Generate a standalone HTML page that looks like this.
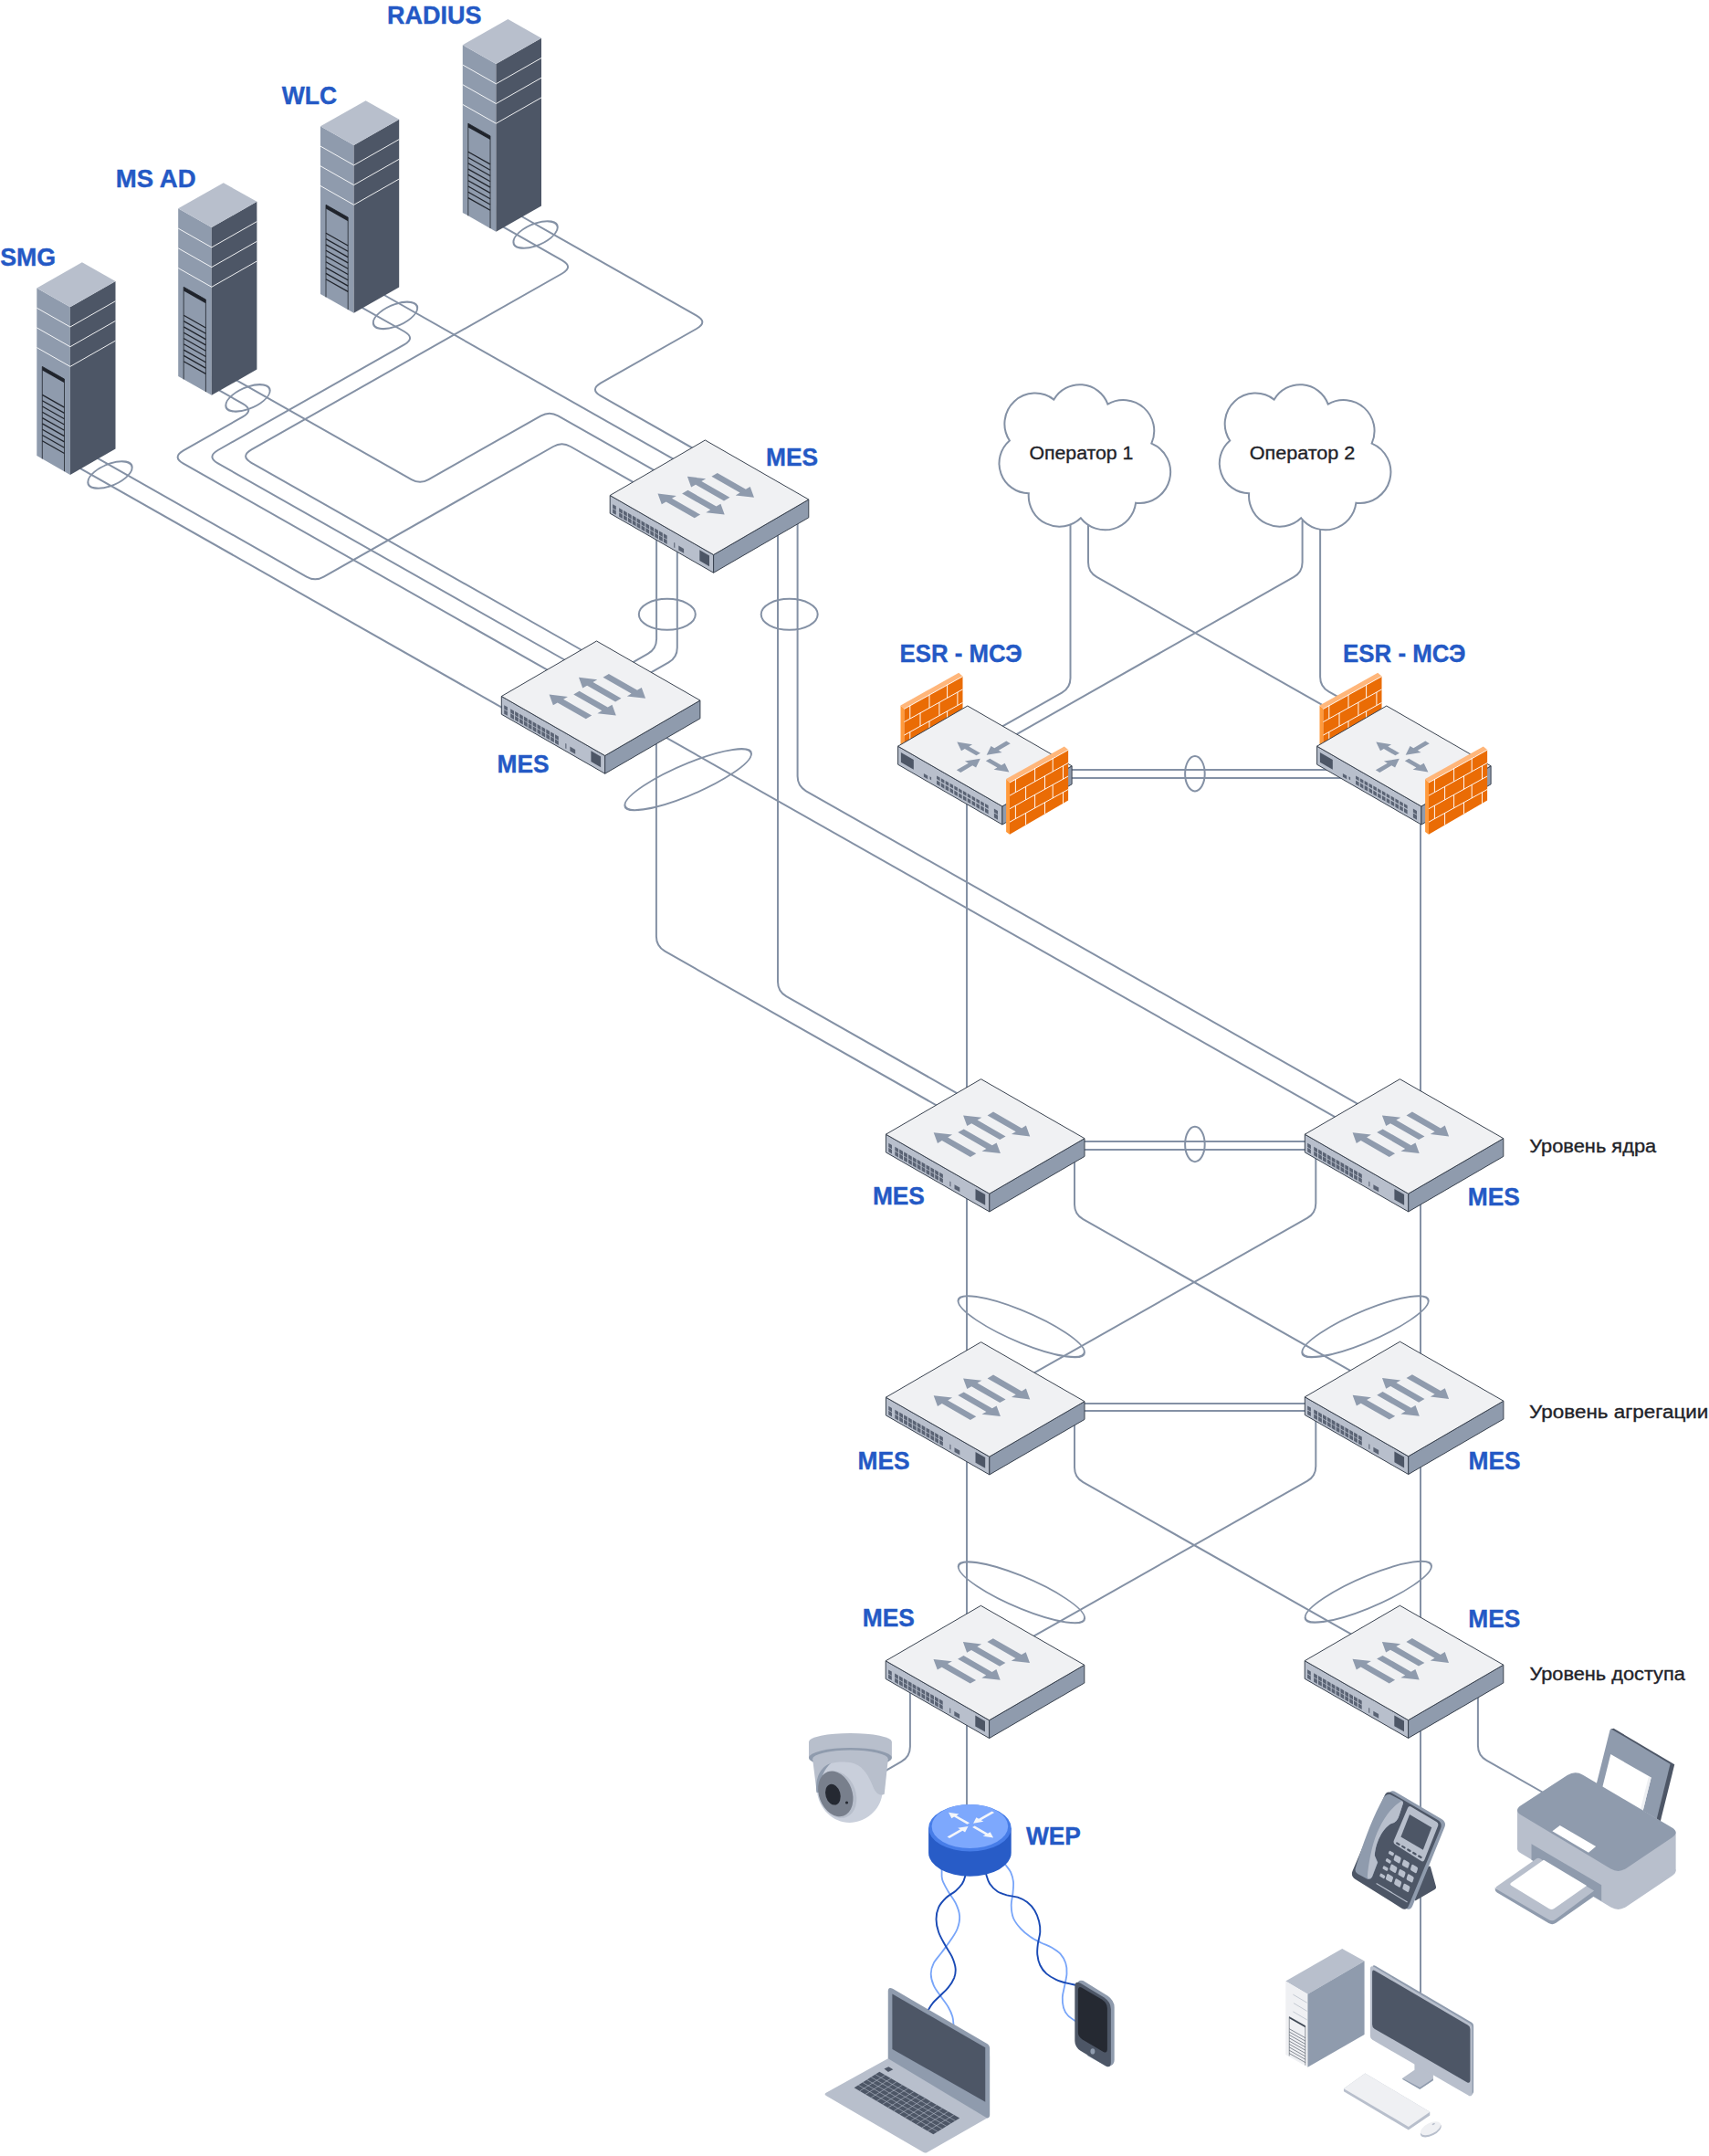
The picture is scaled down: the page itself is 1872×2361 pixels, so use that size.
<!DOCTYPE html>
<html lang="ru"><head><meta charset="utf-8"><title>Network diagram</title>
<style>
html,body{margin:0;padding:0;background:#fff}
svg{display:block}
text{font-family:"Liberation Sans",sans-serif}
</style></head><body>
<svg width="1872" height="2361" viewBox="0 0 1872 2361">
<rect width="1872" height="2361" fill="#ffffff"/>
<g id="lines">
<path d="M100,497.9 L335.8,631.6 Q345.2,637 354.6,631.6 L606.1,489 Q615.5,483.7 624.9,489 L700,531.6" fill="none" stroke="#8491a5" stroke-width="2.0"/>
<path d="M82,509.6 L560,780.6" fill="none" stroke="#8491a5" stroke-width="2.0"/>
<path d="M255,414.2 L450.7,525.1 Q460.1,530.5 469.4,525.1 L592.5,455.3 Q601.9,450 611.3,455.3 L722,518.1" fill="none" stroke="#8491a5" stroke-width="2.0"/>
<path d="M236,425.1 L266,442.1 Q278.6,449.2 266,456.4 L200.9,493.3 Q188.3,500.5 200.9,507.6 L600,733.9" fill="none" stroke="#8491a5" stroke-width="2.0"/>
<path d="M418,321.5 L745,506.9" fill="none" stroke="#8491a5" stroke-width="2.0"/>
<path d="M393,334.8 L442.8,363 Q455.4,370.2 442.8,377.4 L238.7,493 Q226.1,500.2 238.7,507.4 L620,723.5" fill="none" stroke="#8491a5" stroke-width="2.0"/>
<path d="M567,234.5 L763,345.6 Q775.7,352.8 763,360 L658.2,419.4 Q645.6,426.6 658.2,433.7 L765,494.3" fill="none" stroke="#8491a5" stroke-width="2.0"/>
<path d="M547,246.1 L615.8,285.1 Q628.4,292.3 615.8,299.5 L275.4,492.4 Q262.8,499.6 275.4,506.8 L640,713.5" fill="none" stroke="#8491a5" stroke-width="2.0"/>
<path d="M719.1,575 L719.1,699.8 Q719.1,710.6 709.7,715.9 L680,732.8" fill="none" stroke="#8491a5" stroke-width="2.0"/>
<path d="M741.8,585 L741.8,709.3 Q741.8,720.1 732.4,725.4 L700,743.8" fill="none" stroke="#8491a5" stroke-width="2.0"/>
<path d="M852,560 L852,1075.1 Q852,1085.9 861.4,1091.2 L1060,1203.8" fill="none" stroke="#8491a5" stroke-width="2.0"/>
<path d="M873.6,560 L873.6,850.1 Q873.6,860.9 883,866.3 L1500,1216.1" fill="none" stroke="#8491a5" stroke-width="2.0"/>
<path d="M718.9,810 L718.9,1025.6 Q718.9,1036.4 728.3,1041.7 L1040,1218.5" fill="none" stroke="#8491a5" stroke-width="2.0"/>
<path d="M725,805.1 L1475,1230.3" fill="none" stroke="#8491a5" stroke-width="2.0"/>
<path d="M1172.5,570 L1172.5,742.5 Q1172.5,753.3 1163.1,758.6 L1095,797.2" fill="none" stroke="#8491a5" stroke-width="2.0"/>
<path d="M1426.6,570 L1426.6,615.8 Q1426.6,626.6 1417.2,631.9 L1110,806.1" fill="none" stroke="#8491a5" stroke-width="2.0"/>
<path d="M1192,570 L1192,615.8 Q1192,626.6 1201.4,631.9 L1450,772.9" fill="none" stroke="#8491a5" stroke-width="2.0"/>
<path d="M1446.1,570 L1446.1,741.2 Q1446.1,752 1455.5,757.3 L1475,768.4" fill="none" stroke="#8491a5" stroke-width="2.0"/>
<path d="M1165,843 L1456,843" fill="none" stroke="#8491a5" stroke-width="2.0"/>
<path d="M1165,852 L1470,852" fill="none" stroke="#8491a5" stroke-width="2.0"/>
<path d="M1059,870 L1059,1990" fill="none" stroke="#8491a5" stroke-width="2.0"/>
<path d="M1556,890 L1556,2190" fill="none" stroke="#8491a5" stroke-width="2.0"/>
<path d="M1180,1250 L1435,1250" fill="none" stroke="#8491a5" stroke-width="2.0"/>
<path d="M1180,1259 L1435,1259" fill="none" stroke="#8491a5" stroke-width="2.0"/>
<path d="M1180,1537 L1435,1537" fill="none" stroke="#8491a5" stroke-width="2.0"/>
<path d="M1180,1545 L1435,1545" fill="none" stroke="#8491a5" stroke-width="2.0"/>
<path d="M1177,1255 L1177,1319 Q1177,1329.8 1186.4,1335.1 L1490,1507.2" fill="none" stroke="#8491a5" stroke-width="2.0"/>
<path d="M1441.3,1255 L1441.3,1317.8 Q1441.3,1328.6 1431.9,1333.9 L1128,1506.2" fill="none" stroke="#8491a5" stroke-width="2.0"/>
<path d="M1177,1543 L1177,1607 Q1177,1617.8 1186.4,1623.1 L1490,1795.2" fill="none" stroke="#8491a5" stroke-width="2.0"/>
<path d="M1441.3,1543 L1441.3,1605.8 Q1441.3,1616.6 1431.9,1621.9 L1128,1794.2" fill="none" stroke="#8491a5" stroke-width="2.0"/>
<path d="M996.9,1845 L996.9,1912.8 Q996.9,1923.8 987.3,1929.2 L970,1939.1" fill="none" stroke="#8491a5" stroke-width="2.0"/>
<path d="M1618.9,1850 L1618.9,1911.5 Q1618.9,1922.5 1628.5,1927.9 L1700,1968.5" fill="none" stroke="#8491a5" stroke-width="2.0"/>
</g>
<g id="ellipses">
<ellipse rx="24.2" ry="12.4" fill="none" stroke="#8491a5" stroke-width="2.0" transform="translate(120.5,520) skewY(-18.21)"/>
<ellipse rx="24.2" ry="12.4" fill="none" stroke="#8491a5" stroke-width="2.0" transform="translate(271.5,435.9) skewY(-18.21)"/>
<ellipse rx="24.2" ry="12.4" fill="none" stroke="#8491a5" stroke-width="2.0" transform="translate(433,345.4) skewY(-18.21)"/>
<ellipse rx="24.2" ry="12.4" fill="none" stroke="#8491a5" stroke-width="2.0" transform="translate(586.6,257) skewY(-18.21)"/>
<ellipse cx="730.8" cy="672.8" rx="31" ry="17" fill="none" stroke="#8491a5" stroke-width="2.0"/>
<ellipse cx="864.7" cy="672.8" rx="31" ry="17" fill="none" stroke="#8491a5" stroke-width="2.0"/>
<ellipse rx="69.3" ry="18.2" fill="none" stroke="#8491a5" stroke-width="2.0" transform="translate(753.7,853.7) skewY(-22.05)"/>
<ellipse cx="1308.9" cy="847.2" rx="10.8" ry="19.2" fill="none" stroke="#8491a5" stroke-width="2.0"/>
<ellipse cx="1308.9" cy="1253" rx="10.8" ry="19.2" fill="none" stroke="#8491a5" stroke-width="2.0"/>
<ellipse rx="69.2" ry="18.2" fill="none" stroke="#8491a5" stroke-width="2.0" transform="translate(1118.7,1452.7) skewY(22.05)"/>
<ellipse rx="69.2" ry="18.2" fill="none" stroke="#8491a5" stroke-width="2.0" transform="translate(1495.5,1452.7) skewY(-22.05)"/>
<ellipse rx="69.2" ry="18.2" fill="none" stroke="#8491a5" stroke-width="2.0" transform="translate(1118.9,1743.8) skewY(22.05)"/>
<ellipse rx="69.2" ry="18.2" fill="none" stroke="#8491a5" stroke-width="2.0" transform="translate(1498.8,1743.2) skewY(-22.05)"/>
</g>
<path d="M1031.4,2042 C1031.4,2043 1031.5,2045.1 1031.6,2047.9 C1031.7,2050.6 1031,2054.5 1032.2,2058.4 C1033.4,2062.3 1036.2,2067 1038.6,2071.3 C1041.1,2075.6 1044.7,2079.7 1046.8,2084.2 C1048.9,2088.6 1050.8,2093.5 1051.1,2098.2 C1051.4,2102.9 1050.3,2107.8 1048.6,2112.2 C1046.9,2116.7 1043.8,2120.8 1041,2125.1 C1038.1,2129.4 1034.6,2133.9 1031.6,2138 C1028.6,2142.1 1024.8,2145.8 1022.8,2149.7 C1020.8,2153.6 1019.7,2157.3 1019.7,2161.4 C1019.7,2165.5 1021,2170.2 1022.8,2174.3 C1024.6,2178.4 1027.8,2182.1 1030.4,2186 C1033.1,2189.9 1036.5,2194 1038.6,2197.7 C1040.8,2201.4 1042.3,2204.9 1043.3,2208.2 C1044.3,2211.5 1044.3,2216 1044.5,2217.6" fill="none" stroke="#78a5f9" stroke-width="1.8" stroke-linecap="round"/>
<path d="M1057.9,2047.9 C1057.8,2048.9 1058,2051.8 1057.3,2054.3 C1056.7,2056.8 1055.6,2060.4 1053.8,2063.1 C1052.1,2065.8 1049.7,2068.2 1046.8,2070.7 C1043.9,2073.2 1039.4,2075.3 1036.3,2078.3 C1033.2,2081.3 1029.9,2084.9 1028.1,2088.8 C1026.3,2092.7 1025.5,2097.2 1025.5,2101.7 C1025.5,2106.2 1026.5,2111.1 1028.1,2115.7 C1029.7,2120.4 1032.7,2125.3 1035.1,2129.8 C1037.5,2134.3 1040.8,2138.4 1042.7,2142.7 C1044.6,2147 1046.2,2151.6 1046.6,2155.5 C1047,2159.4 1046.4,2162.6 1045.1,2166.1 C1043.7,2169.6 1041.3,2173.3 1038.6,2176.6 C1036,2179.9 1032.1,2183.1 1029.3,2186 C1026.4,2188.8 1023.8,2190.9 1021.7,2193.6 C1019.5,2196.2 1017.3,2200.4 1016.4,2201.8" fill="none" stroke="#1a4ab5" stroke-width="1.9" stroke-linecap="round"/>
<path d="M1098.3,2037.3 C1098.9,2038.2 1100.4,2040.5 1101.8,2042.6 C1103.3,2044.8 1105.7,2047.2 1107.1,2050.2 C1108.4,2053.2 1109.6,2056.8 1110,2060.7 C1110.4,2064.6 1109.8,2069.3 1109.4,2073.6 C1109,2077.9 1107.6,2082 1107.7,2086.5 C1107.8,2091 1108.3,2096.2 1110,2100.5 C1111.8,2104.8 1115.1,2108.8 1118.2,2112.2 C1121.3,2115.7 1125,2118.5 1128.7,2121 C1132.4,2123.6 1136.5,2125.5 1140.4,2127.5 C1144.3,2129.4 1148.6,2130.7 1152.1,2132.7 C1155.6,2134.8 1159,2136.9 1161.5,2139.7 C1164,2142.6 1166.2,2146.1 1167.3,2149.7 C1168.5,2153.3 1168.7,2157.3 1168.5,2161.4 C1168.3,2165.5 1167,2170 1166.2,2174.3 C1165.4,2178.6 1164,2183 1163.8,2187.1 C1163.6,2191.2 1164,2195.5 1165,2198.8 C1166,2202.2 1167.3,2204.5 1169.7,2207 C1172,2209.6 1177.5,2212.9 1179.1,2214.1" fill="none" stroke="#78a5f9" stroke-width="1.8" stroke-linecap="round"/>
<path d="M1079.6,2046.7 C1079.7,2047.9 1079.7,2051 1080.5,2053.7 C1081.3,2056.5 1082.3,2060.2 1084.3,2063.1 C1086.2,2066 1089.3,2069.2 1092.5,2071.3 C1095.6,2073.3 1099.3,2074.3 1103,2075.4 C1106.7,2076.4 1111,2076.4 1114.7,2077.7 C1118.4,2079 1122.1,2080.5 1125.2,2083 C1128.3,2085.4 1131.3,2088.8 1133.4,2092.3 C1135.6,2095.9 1137.1,2100.1 1138.1,2104 C1139.1,2107.9 1139.5,2111.7 1139.3,2115.7 C1139.1,2119.8 1137.4,2124.5 1136.9,2128.6 C1136.4,2132.7 1135.9,2136.4 1136.3,2140.3 C1136.7,2144.2 1137.6,2148.5 1139.3,2152 C1140.9,2155.5 1143.4,2158.8 1146.3,2161.4 C1149.2,2164 1153.1,2166.1 1156.8,2167.8 C1160.5,2169.5 1164.8,2170.7 1168.5,2171.7 C1172.2,2172.7 1177.3,2173.6 1179.1,2174" fill="none" stroke="#1a4ab5" stroke-width="1.9" stroke-linecap="round"/>
<g>
<polygon points="40.3,315.4 76.9,336.2 76.9,519.9 40.3,499.1" fill="#8f9bad"/>
<polygon points="76.9,336.2 126.5,307.9 126.5,491.6 76.9,519.9" fill="#4d5666"/>
<polygon points="89.9,287.3 126.5,307.9 76.9,336.2 40.3,315.4" fill="#b8bfcc"/>
<polyline points="40.3,337.2 76.9,358 126.5,329.7" fill="none" stroke="#ffffff" stroke-width="0.9"/>
<polyline points="40.3,358.9 76.9,379.7 126.5,351.4" fill="none" stroke="#ffffff" stroke-width="0.9"/>
<polyline points="40.3,380.6 76.9,401.4 126.5,373.1" fill="none" stroke="#ffffff" stroke-width="0.9"/>
<polyline points="46.3,502.5 46.3,401.4 70.5,415.1 70.5,516.2" fill="none" stroke="#20242c" stroke-width="0.8"/>
<polygon points="46.3,401.4 70.5,415.1 70.5,419.3 46.3,405.6" fill="#20242c"/>
<line x1="46.3" y1="432.4" x2="70.5" y2="446.1" stroke="#20242c" stroke-width="1.25"/>
<line x1="46.3" y1="438.7" x2="70.5" y2="452.4" stroke="#20242c" stroke-width="1.25"/>
<line x1="46.3" y1="445" x2="70.5" y2="458.7" stroke="#20242c" stroke-width="1.25"/>
<line x1="46.3" y1="451.3" x2="70.5" y2="465" stroke="#20242c" stroke-width="1.25"/>
<line x1="46.3" y1="457.6" x2="70.5" y2="471.3" stroke="#20242c" stroke-width="1.25"/>
<line x1="46.3" y1="463.9" x2="70.5" y2="477.6" stroke="#20242c" stroke-width="1.25"/>
<line x1="46.3" y1="470.2" x2="70.5" y2="483.9" stroke="#20242c" stroke-width="1.25"/>
<line x1="46.3" y1="476.5" x2="70.5" y2="490.2" stroke="#20242c" stroke-width="1.25"/>
<line x1="46.3" y1="482.8" x2="70.5" y2="496.5" stroke="#20242c" stroke-width="1.25"/>
</g>
<g>
<polygon points="195.2,228.3 231.8,249.1 231.8,432.8 195.2,412" fill="#8f9bad"/>
<polygon points="231.8,249.1 281.4,220.8 281.4,404.5 231.8,432.8" fill="#4d5666"/>
<polygon points="244.8,200.2 281.4,220.8 231.8,249.1 195.2,228.3" fill="#b8bfcc"/>
<polyline points="195.2,250.1 231.8,270.9 281.4,242.6" fill="none" stroke="#ffffff" stroke-width="0.9"/>
<polyline points="195.2,271.8 231.8,292.6 281.4,264.3" fill="none" stroke="#ffffff" stroke-width="0.9"/>
<polyline points="195.2,293.5 231.8,314.3 281.4,286" fill="none" stroke="#ffffff" stroke-width="0.9"/>
<polyline points="201.2,415.4 201.2,314.3 225.4,328 225.4,429.1" fill="none" stroke="#20242c" stroke-width="0.8"/>
<polygon points="201.2,314.3 225.4,328 225.4,332.2 201.2,318.5" fill="#20242c"/>
<line x1="201.2" y1="345.3" x2="225.4" y2="359" stroke="#20242c" stroke-width="1.25"/>
<line x1="201.2" y1="351.6" x2="225.4" y2="365.3" stroke="#20242c" stroke-width="1.25"/>
<line x1="201.2" y1="357.9" x2="225.4" y2="371.6" stroke="#20242c" stroke-width="1.25"/>
<line x1="201.2" y1="364.2" x2="225.4" y2="377.9" stroke="#20242c" stroke-width="1.25"/>
<line x1="201.2" y1="370.5" x2="225.4" y2="384.2" stroke="#20242c" stroke-width="1.25"/>
<line x1="201.2" y1="376.8" x2="225.4" y2="390.5" stroke="#20242c" stroke-width="1.25"/>
<line x1="201.2" y1="383.1" x2="225.4" y2="396.8" stroke="#20242c" stroke-width="1.25"/>
<line x1="201.2" y1="389.4" x2="225.4" y2="403.1" stroke="#20242c" stroke-width="1.25"/>
<line x1="201.2" y1="395.7" x2="225.4" y2="409.4" stroke="#20242c" stroke-width="1.25"/>
</g>
<g>
<polygon points="351,138.3 387.6,159.1 387.6,342.8 351,322" fill="#8f9bad"/>
<polygon points="387.6,159.1 437.2,130.8 437.2,314.5 387.6,342.8" fill="#4d5666"/>
<polygon points="400.6,110.2 437.2,130.8 387.6,159.1 351,138.3" fill="#b8bfcc"/>
<polyline points="351,160.1 387.6,180.9 437.2,152.6" fill="none" stroke="#ffffff" stroke-width="0.9"/>
<polyline points="351,181.8 387.6,202.6 437.2,174.3" fill="none" stroke="#ffffff" stroke-width="0.9"/>
<polyline points="351,203.5 387.6,224.3 437.2,196" fill="none" stroke="#ffffff" stroke-width="0.9"/>
<polyline points="357,325.4 357,224.3 381.2,238 381.2,339.1" fill="none" stroke="#20242c" stroke-width="0.8"/>
<polygon points="357,224.3 381.2,238 381.2,242.2 357,228.5" fill="#20242c"/>
<line x1="357" y1="255.3" x2="381.2" y2="269" stroke="#20242c" stroke-width="1.25"/>
<line x1="357" y1="261.6" x2="381.2" y2="275.3" stroke="#20242c" stroke-width="1.25"/>
<line x1="357" y1="267.9" x2="381.2" y2="281.6" stroke="#20242c" stroke-width="1.25"/>
<line x1="357" y1="274.2" x2="381.2" y2="287.9" stroke="#20242c" stroke-width="1.25"/>
<line x1="357" y1="280.5" x2="381.2" y2="294.2" stroke="#20242c" stroke-width="1.25"/>
<line x1="357" y1="286.8" x2="381.2" y2="300.5" stroke="#20242c" stroke-width="1.25"/>
<line x1="357" y1="293.1" x2="381.2" y2="306.8" stroke="#20242c" stroke-width="1.25"/>
<line x1="357" y1="299.4" x2="381.2" y2="313.1" stroke="#20242c" stroke-width="1.25"/>
<line x1="357" y1="305.7" x2="381.2" y2="319.4" stroke="#20242c" stroke-width="1.25"/>
</g>
<g>
<polygon points="506.8,49.2 543.4,70 543.4,253.7 506.8,232.9" fill="#8f9bad"/>
<polygon points="543.4,70 593,41.7 593,225.4 543.4,253.7" fill="#4d5666"/>
<polygon points="556.4,21.1 593,41.7 543.4,70 506.8,49.2" fill="#b8bfcc"/>
<polyline points="506.8,71 543.4,91.8 593,63.5" fill="none" stroke="#ffffff" stroke-width="0.9"/>
<polyline points="506.8,92.7 543.4,113.5 593,85.2" fill="none" stroke="#ffffff" stroke-width="0.9"/>
<polyline points="506.8,114.4 543.4,135.2 593,106.9" fill="none" stroke="#ffffff" stroke-width="0.9"/>
<polyline points="512.8,236.3 512.8,135.2 537,148.9 537,250" fill="none" stroke="#20242c" stroke-width="0.8"/>
<polygon points="512.8,135.2 537,148.9 537,153.1 512.8,139.4" fill="#20242c"/>
<line x1="512.8" y1="166.2" x2="537" y2="179.9" stroke="#20242c" stroke-width="1.25"/>
<line x1="512.8" y1="172.5" x2="537" y2="186.2" stroke="#20242c" stroke-width="1.25"/>
<line x1="512.8" y1="178.8" x2="537" y2="192.5" stroke="#20242c" stroke-width="1.25"/>
<line x1="512.8" y1="185.1" x2="537" y2="198.8" stroke="#20242c" stroke-width="1.25"/>
<line x1="512.8" y1="191.4" x2="537" y2="205.1" stroke="#20242c" stroke-width="1.25"/>
<line x1="512.8" y1="197.7" x2="537" y2="211.4" stroke="#20242c" stroke-width="1.25"/>
<line x1="512.8" y1="204" x2="537" y2="217.7" stroke="#20242c" stroke-width="1.25"/>
<line x1="512.8" y1="210.3" x2="537" y2="224" stroke="#20242c" stroke-width="1.25"/>
<line x1="512.8" y1="216.6" x2="537" y2="230.3" stroke="#20242c" stroke-width="1.25"/>
</g>
<path d="M1105.9,482.5 A33.5,33.5 0 0 1 1154.4,437.6 A32.7,32.7 0 0 1 1213.4,442.6 A33.8,33.8 0 0 1 1261.3,485.6 A34,34 0 0 1 1244.1,550.7 A33.8,33.8 0 0 1 1183.9,567.3 A33.8,33.8 0 0 1 1126.8,540.3 A32.9,32.9 0 0 1 1105.9,482.5Z" fill="#ffffff" stroke="#8491a5" stroke-width="2.0" stroke-linejoin="miter"/>
<path d="M1347.2,482.5 A33.5,33.5 0 0 1 1395.7,437.6 A32.7,32.7 0 0 1 1454.7,442.6 A33.8,33.8 0 0 1 1502.6,485.6 A34,34 0 0 1 1485.4,550.7 A33.8,33.8 0 0 1 1425.2,567.3 A33.8,33.8 0 0 1 1368.1,540.3 A32.9,32.9 0 0 1 1347.2,482.5Z" fill="#ffffff" stroke="#8491a5" stroke-width="2.0" stroke-linejoin="miter"/>
<g>
<polygon points="986.5,772.5 990.4,776.1 990.4,833.2 986.5,830.3" fill="#ff9a3c"/>
<polygon points="986.5,772.5 1050.2,736.8 1054.5,740.4 990.4,776.1" fill="#ffb67a"/>
<polygon points="990.4,776.1 1054.5,740.4 1054.5,795.8 990.4,833.2" fill="#ea6c05"/>
<path d="M990.4,776.4 L1054.5,740.7 M990.4,790.6 L1054.5,754.9 M990.4,805.1 L1054.5,769.4 M990.4,819.6 L1054.5,783.9 M996.8,772.5 L996.8,787 M1018,760.7 L1018,775.2 M1037.6,749.8 L1037.6,764.3 M1008,780.8 L1008,795.3 M1028.9,769.2 L1028.9,783.7 M1048.9,758 L1048.9,772.5 M996.8,801.5 L996.8,816 M1018,789.7 L1018,804.2 M1037.6,778.8 L1037.6,793.3 M1008,809.8 L1008,822.9 M1028.9,798.2 L1028.9,810.8 M1048.9,787 L1048.9,799.1" stroke="#ffffff" stroke-width="0.95" fill="none"/>
<polygon points="983.6,817.2 1097.9,883 1097.9,903 983.6,837.2" fill="#b8bfcc" stroke="#39424f" stroke-width="1.0" stroke-linejoin="round"/>
<polygon points="1097.9,883 1174.1,838.8 1174.1,858.8 1097.9,903" fill="#8f9bad" stroke="#39424f" stroke-width="1.0" stroke-linejoin="round"/>
<polygon points="986.9,823.9 1000.8,831.9 1000.8,842.7 986.9,834.7" fill="#4d5666"/>
<polygon points="1011.9,847.1 1016.2,849.6 1016.2,853.3 1011.9,850.8" fill="#5a6374"/>
<polygon points="1018.5,850.3 1020.1,851.2 1020.1,854.2 1018.5,853.3" fill="#5a6374"/>
<polygon points="1026,849.4 1029.6,851.5 1029.6,855.2 1026,853.1" fill="#5a6374"/>
<polygon points="1030.8,852.2 1034.4,854.3 1034.4,858 1030.8,855.9" fill="#5a6374"/>
<polygon points="1035.6,855 1039.2,857 1039.2,860.7 1035.6,858.7" fill="#5a6374"/>
<polygon points="1040.5,857.7 1044.1,859.8 1044.1,863.5 1040.5,861.4" fill="#5a6374"/>
<polygon points="1045.3,860.5 1048.9,862.6 1048.9,866.3 1045.3,864.2" fill="#5a6374"/>
<polygon points="1050.1,863.3 1053.7,865.4 1053.7,869.1 1050.1,867" fill="#5a6374"/>
<polygon points="1054.9,866.1 1058.5,868.1 1058.5,871.8 1054.9,869.8" fill="#5a6374"/>
<polygon points="1059.7,868.8 1063.3,870.9 1063.3,874.6 1059.7,872.5" fill="#5a6374"/>
<polygon points="1064.6,871.6 1068.2,873.7 1068.2,877.4 1064.6,875.3" fill="#5a6374"/>
<polygon points="1069.4,874.4 1073,876.5 1073,880.2 1069.4,878.1" fill="#5a6374"/>
<polygon points="1074.2,877.2 1077.8,879.2 1077.8,882.9 1074.2,880.9" fill="#5a6374"/>
<polygon points="1079,879.9 1082.6,882 1082.6,885.7 1079,883.6" fill="#5a6374"/>
<polygon points="1026,854.5 1029.6,856.6 1029.6,860.9 1026,858.8" fill="#5a6374"/>
<polygon points="1030.8,857.3 1034.4,859.4 1034.4,863.7 1030.8,861.6" fill="#5a6374"/>
<polygon points="1035.6,860.1 1039.2,862.1 1039.2,866.4 1035.6,864.4" fill="#5a6374"/>
<polygon points="1040.5,862.8 1044.1,864.9 1044.1,869.2 1040.5,867.1" fill="#5a6374"/>
<polygon points="1045.3,865.6 1048.9,867.7 1048.9,872 1045.3,869.9" fill="#5a6374"/>
<polygon points="1050.1,868.4 1053.7,870.5 1053.7,874.8 1050.1,872.7" fill="#5a6374"/>
<polygon points="1054.9,871.2 1058.5,873.2 1058.5,877.5 1054.9,875.5" fill="#5a6374"/>
<polygon points="1059.7,873.9 1063.3,876 1063.3,880.3 1059.7,878.2" fill="#5a6374"/>
<polygon points="1064.6,876.7 1068.2,878.8 1068.2,883.1 1064.6,881" fill="#5a6374"/>
<polygon points="1069.4,879.5 1073,881.6 1073,885.9 1069.4,883.8" fill="#5a6374"/>
<polygon points="1074.2,882.3 1077.8,884.3 1077.8,888.6 1074.2,886.6" fill="#5a6374"/>
<polygon points="1079,885 1082.6,887.1 1082.6,891.4 1079,889.3" fill="#5a6374"/>
<polygon points="1088.9,885.6 1093,888 1093,892 1088.9,889.6" fill="#5a6374"/>
<polygon points="1088.9,890.4 1093,892.8 1093,897.7 1088.9,895.3" fill="#5a6374"/>
<polygon points="983.6,817.2 1059.8,773 1174.1,838.8 1097.9,883" fill="#f0f1f3" stroke="#39424f" stroke-width="1.0" stroke-linejoin="round"/>
<polygon points="1048.3,812.5 1065.1,815.3 1061.3,817.5 1073.9,824.7 1069.4,827.3 1056.8,820.1 1053,822.3" fill="#8f9bad"/>
<polygon points="1105.4,845.5 1100.7,835.7 1096.9,837.9 1084.3,830.7 1079.8,833.3 1092.4,840.5 1088.6,842.7" fill="#8f9bad"/>
<polygon points="1080.7,826.7 1097.6,824 1093.8,821.8 1106.8,814.2 1102.3,811.6 1089.3,819.2 1085.5,817" fill="#8f9bad"/>
<polygon points="1073.8,830.8 1069.1,840.5 1065.3,838.3 1052.3,845.9 1047.8,843.3 1060.8,835.7 1056.9,833.5" fill="#8f9bad"/>
<polygon points="1102.1,853.1 1106,856.7 1106,913.8 1102.1,910.9" fill="#ff9a3c"/>
<polygon points="1102.1,853.1 1165.8,817.4 1170.1,821 1106,856.7" fill="#ffb67a"/>
<polygon points="1106,856.7 1170.1,821 1170.1,876.4 1106,913.8" fill="#ea6c05"/>
<path d="M1106,857 L1170.1,821.3 M1106,871.2 L1170.1,835.5 M1106,885.7 L1170.1,850 M1106,900.2 L1170.1,864.5 M1112.4,853.1 L1112.4,867.6 M1133.6,841.3 L1133.6,855.8 M1153.2,830.4 L1153.2,844.9 M1123.6,861.4 L1123.6,875.9 M1144.5,849.8 L1144.5,864.3 M1164.5,838.6 L1164.5,853.1 M1112.4,882.1 L1112.4,896.6 M1133.6,870.3 L1133.6,884.8 M1153.2,859.4 L1153.2,873.9 M1123.6,890.4 L1123.6,903.5 M1144.5,878.8 L1144.5,891.4 M1164.5,867.6 L1164.5,879.7" stroke="#ffffff" stroke-width="0.95" fill="none"/>
</g>
<g>
<polygon points="1445.5,772.5 1449.4,776.1 1449.4,833.2 1445.5,830.3" fill="#ff9a3c"/>
<polygon points="1445.5,772.5 1509.2,736.8 1513.5,740.4 1449.4,776.1" fill="#ffb67a"/>
<polygon points="1449.4,776.1 1513.5,740.4 1513.5,795.8 1449.4,833.2" fill="#ea6c05"/>
<path d="M1449.4,776.4 L1513.5,740.7 M1449.4,790.6 L1513.5,754.9 M1449.4,805.1 L1513.5,769.4 M1449.4,819.6 L1513.5,783.9 M1455.8,772.5 L1455.8,787 M1477,760.7 L1477,775.2 M1496.6,749.8 L1496.6,764.3 M1467,780.8 L1467,795.3 M1487.9,769.2 L1487.9,783.7 M1507.9,758 L1507.9,772.5 M1455.8,801.5 L1455.8,816 M1477,789.7 L1477,804.2 M1496.6,778.8 L1496.6,793.3 M1467,809.8 L1467,822.9 M1487.9,798.2 L1487.9,810.8 M1507.9,787 L1507.9,799.1" stroke="#ffffff" stroke-width="0.95" fill="none"/>
<polygon points="1442.6,817.2 1556.9,883 1556.9,903 1442.6,837.2" fill="#b8bfcc" stroke="#39424f" stroke-width="1.0" stroke-linejoin="round"/>
<polygon points="1556.9,883 1633.1,838.8 1633.1,858.8 1556.9,903" fill="#8f9bad" stroke="#39424f" stroke-width="1.0" stroke-linejoin="round"/>
<polygon points="1445.9,823.9 1459.8,831.9 1459.8,842.7 1445.9,834.7" fill="#4d5666"/>
<polygon points="1470.9,847.1 1475.2,849.6 1475.2,853.3 1470.9,850.8" fill="#5a6374"/>
<polygon points="1477.5,850.3 1479.1,851.2 1479.1,854.2 1477.5,853.3" fill="#5a6374"/>
<polygon points="1485,849.4 1488.6,851.5 1488.6,855.2 1485,853.1" fill="#5a6374"/>
<polygon points="1489.8,852.2 1493.4,854.3 1493.4,858 1489.8,855.9" fill="#5a6374"/>
<polygon points="1494.6,855 1498.2,857 1498.2,860.7 1494.6,858.7" fill="#5a6374"/>
<polygon points="1499.5,857.7 1503.1,859.8 1503.1,863.5 1499.5,861.4" fill="#5a6374"/>
<polygon points="1504.3,860.5 1507.9,862.6 1507.9,866.3 1504.3,864.2" fill="#5a6374"/>
<polygon points="1509.1,863.3 1512.7,865.4 1512.7,869.1 1509.1,867" fill="#5a6374"/>
<polygon points="1513.9,866.1 1517.5,868.1 1517.5,871.8 1513.9,869.8" fill="#5a6374"/>
<polygon points="1518.7,868.8 1522.3,870.9 1522.3,874.6 1518.7,872.5" fill="#5a6374"/>
<polygon points="1523.6,871.6 1527.2,873.7 1527.2,877.4 1523.6,875.3" fill="#5a6374"/>
<polygon points="1528.4,874.4 1532,876.5 1532,880.2 1528.4,878.1" fill="#5a6374"/>
<polygon points="1533.2,877.2 1536.8,879.2 1536.8,882.9 1533.2,880.9" fill="#5a6374"/>
<polygon points="1538,879.9 1541.6,882 1541.6,885.7 1538,883.6" fill="#5a6374"/>
<polygon points="1485,854.5 1488.6,856.6 1488.6,860.9 1485,858.8" fill="#5a6374"/>
<polygon points="1489.8,857.3 1493.4,859.4 1493.4,863.7 1489.8,861.6" fill="#5a6374"/>
<polygon points="1494.6,860.1 1498.2,862.1 1498.2,866.4 1494.6,864.4" fill="#5a6374"/>
<polygon points="1499.5,862.8 1503.1,864.9 1503.1,869.2 1499.5,867.1" fill="#5a6374"/>
<polygon points="1504.3,865.6 1507.9,867.7 1507.9,872 1504.3,869.9" fill="#5a6374"/>
<polygon points="1509.1,868.4 1512.7,870.5 1512.7,874.8 1509.1,872.7" fill="#5a6374"/>
<polygon points="1513.9,871.2 1517.5,873.2 1517.5,877.5 1513.9,875.5" fill="#5a6374"/>
<polygon points="1518.7,873.9 1522.3,876 1522.3,880.3 1518.7,878.2" fill="#5a6374"/>
<polygon points="1523.6,876.7 1527.2,878.8 1527.2,883.1 1523.6,881" fill="#5a6374"/>
<polygon points="1528.4,879.5 1532,881.6 1532,885.9 1528.4,883.8" fill="#5a6374"/>
<polygon points="1533.2,882.3 1536.8,884.3 1536.8,888.6 1533.2,886.6" fill="#5a6374"/>
<polygon points="1538,885 1541.6,887.1 1541.6,891.4 1538,889.3" fill="#5a6374"/>
<polygon points="1547.9,885.6 1552,888 1552,892 1547.9,889.6" fill="#5a6374"/>
<polygon points="1547.9,890.4 1552,892.8 1552,897.7 1547.9,895.3" fill="#5a6374"/>
<polygon points="1442.6,817.2 1518.8,773 1633.1,838.8 1556.9,883" fill="#f0f1f3" stroke="#39424f" stroke-width="1.0" stroke-linejoin="round"/>
<polygon points="1507.3,812.5 1524.1,815.3 1520.3,817.5 1532.9,824.7 1528.4,827.3 1515.8,820.1 1512,822.3" fill="#8f9bad"/>
<polygon points="1564.4,845.5 1559.7,835.7 1555.9,837.9 1543.3,830.7 1538.8,833.3 1551.4,840.5 1547.6,842.7" fill="#8f9bad"/>
<polygon points="1539.7,826.7 1556.6,824 1552.8,821.8 1565.8,814.2 1561.3,811.6 1548.3,819.2 1544.5,817" fill="#8f9bad"/>
<polygon points="1532.8,830.8 1528.1,840.5 1524.3,838.3 1511.3,845.9 1506.8,843.3 1519.8,835.7 1515.9,833.5" fill="#8f9bad"/>
<polygon points="1561.1,853.1 1565,856.7 1565,913.8 1561.1,910.9" fill="#ff9a3c"/>
<polygon points="1561.1,853.1 1624.8,817.4 1629.1,821 1565,856.7" fill="#ffb67a"/>
<polygon points="1565,856.7 1629.1,821 1629.1,876.4 1565,913.8" fill="#ea6c05"/>
<path d="M1565,857 L1629.1,821.3 M1565,871.2 L1629.1,835.5 M1565,885.7 L1629.1,850 M1565,900.2 L1629.1,864.5 M1571.4,853.1 L1571.4,867.6 M1592.6,841.3 L1592.6,855.8 M1612.2,830.4 L1612.2,844.9 M1582.6,861.4 L1582.6,875.9 M1603.5,849.8 L1603.5,864.3 M1623.5,838.6 L1623.5,853.1 M1571.4,882.1 L1571.4,896.6 M1592.6,870.3 L1592.6,884.8 M1612.2,859.4 L1612.2,873.9 M1582.6,890.4 L1582.6,903.5 M1603.5,878.8 L1603.5,891.4 M1623.5,867.6 L1623.5,879.7" stroke="#ffffff" stroke-width="0.95" fill="none"/>
</g>
<g>
<polygon points="668.2,542.5 781.6,607.5 781.6,627.2 668.2,562.2" fill="#b8bfcc" stroke="#39424f" stroke-width="1.0" stroke-linejoin="round"/>
<polygon points="781.6,607.5 885.8,547 885.8,566.8 781.6,627.2" fill="#8f9bad" stroke="#39424f" stroke-width="1.0" stroke-linejoin="round"/>
<polygon points="671.1,552.2 674.8,554.3 674.8,558.6 671.1,556.5" fill="#5a6374"/>
<polygon points="678.1,556.2 681.9,558.4 681.9,562.7 678.1,560.5" fill="#5a6374"/>
<polygon points="683,559 686.8,561.2 686.8,565.5 683,563.3" fill="#5a6374"/>
<polygon points="687.9,561.8 691.7,564 691.7,568.3 687.9,566.1" fill="#5a6374"/>
<polygon points="692.8,564.6 696.6,566.8 696.6,571.1 692.8,568.9" fill="#5a6374"/>
<polygon points="697.6,567.4 701.4,569.6 701.4,573.9 697.6,571.7" fill="#5a6374"/>
<polygon points="702.5,570.2 706.3,572.4 706.3,576.7 702.5,574.5" fill="#5a6374"/>
<polygon points="707.4,573 711.2,575.2 711.2,579.5 707.4,577.3" fill="#5a6374"/>
<polygon points="712.3,575.8 716.1,578 716.1,582.3 712.3,580.1" fill="#5a6374"/>
<polygon points="717.2,578.6 721,580.8 721,585.1 717.2,582.9" fill="#5a6374"/>
<polygon points="722,581.4 725.8,583.6 725.8,587.9 722,585.7" fill="#5a6374"/>
<polygon points="726.9,584.2 730.7,586.4 730.7,590.7 726.9,588.5" fill="#5a6374"/>
<polygon points="671.1,557.2 674.8,559.3 674.8,563.8 671.1,561.7" fill="#5a6374"/>
<polygon points="678.1,561.2 681.9,563.4 681.9,567.9 678.1,565.7" fill="#5a6374"/>
<polygon points="683,564 686.8,566.2 686.8,570.7 683,568.5" fill="#5a6374"/>
<polygon points="687.9,566.8 691.7,569 691.7,573.5 687.9,571.3" fill="#5a6374"/>
<polygon points="692.8,569.6 696.6,571.8 696.6,576.3 692.8,574.1" fill="#5a6374"/>
<polygon points="697.6,572.4 701.4,574.6 701.4,579.1 697.6,576.9" fill="#5a6374"/>
<polygon points="702.5,575.2 706.3,577.4 706.3,581.9 702.5,579.7" fill="#5a6374"/>
<polygon points="707.4,578 711.2,580.2 711.2,584.7 707.4,582.5" fill="#5a6374"/>
<polygon points="712.3,580.8 716.1,583 716.1,587.5 712.3,585.3" fill="#5a6374"/>
<polygon points="717.2,583.6 721,585.8 721,590.3 717.2,588.1" fill="#5a6374"/>
<polygon points="722,586.4 725.8,588.6 725.8,593.1 722,590.9" fill="#5a6374"/>
<polygon points="726.9,589.2 730.7,591.4 730.7,595.9 726.9,593.7" fill="#5a6374"/>
<polygon points="738.2,594 739.3,594.6 739.3,600 738.2,599.4" fill="#5a6374"/>
<polygon points="743.3,597.6 749.1,600.9 749.1,605.7 743.3,602.4" fill="#5a6374"/>
<polygon points="766.3,602.3 777,608.4 777,620.2 766.3,614.1" fill="#4d5666"/>
<polygon points="668.2,542.5 772.4,482 885.8,547 781.6,607.5" fill="#f0f1f3" stroke="#39424f" stroke-width="1.0" stroke-linejoin="round"/>
<polygon points="720.5,540.6 740.9,543 736,545.8 767.1,563.6 760.7,567.3 729.6,549.5 724.8,552.3" fill="#8f9bad"/>
<polygon points="793.7,563.5 789.4,551.8 784.6,554.6 753.5,536.8 747.1,540.5 778.2,558.3 773.3,561.2" fill="#8f9bad"/>
<polygon points="752.9,521.8 773.2,524.2 768.4,527 799.4,544.8 793,548.5 762,530.7 757.1,533.5" fill="#8f9bad"/>
<polygon points="826,544.8 821.7,533 816.9,535.8 785.8,518 779.4,521.8 810.5,539.6 805.7,542.4" fill="#8f9bad"/>
</g>
<g>
<polygon points="549.3,762.5 662.7,827.5 662.7,847.2 549.3,782.2" fill="#b8bfcc" stroke="#39424f" stroke-width="1.0" stroke-linejoin="round"/>
<polygon points="662.7,827.5 766.9,767 766.9,786.8 662.7,847.2" fill="#8f9bad" stroke="#39424f" stroke-width="1.0" stroke-linejoin="round"/>
<polygon points="552.2,772.2 555.9,774.3 555.9,778.6 552.2,776.5" fill="#5a6374"/>
<polygon points="559.2,776.2 563,778.4 563,782.7 559.2,780.5" fill="#5a6374"/>
<polygon points="564.1,779 567.9,781.2 567.9,785.5 564.1,783.3" fill="#5a6374"/>
<polygon points="569,781.8 572.8,784 572.8,788.3 569,786.1" fill="#5a6374"/>
<polygon points="573.9,784.6 577.7,786.8 577.7,791.1 573.9,788.9" fill="#5a6374"/>
<polygon points="578.7,787.4 582.5,789.6 582.5,793.9 578.7,791.7" fill="#5a6374"/>
<polygon points="583.6,790.2 587.4,792.4 587.4,796.7 583.6,794.5" fill="#5a6374"/>
<polygon points="588.5,793 592.3,795.2 592.3,799.5 588.5,797.3" fill="#5a6374"/>
<polygon points="593.4,795.8 597.2,798 597.2,802.3 593.4,800.1" fill="#5a6374"/>
<polygon points="598.3,798.6 602.1,800.8 602.1,805.1 598.3,802.9" fill="#5a6374"/>
<polygon points="603.1,801.4 606.9,803.6 606.9,807.9 603.1,805.7" fill="#5a6374"/>
<polygon points="608,804.2 611.8,806.4 611.8,810.7 608,808.5" fill="#5a6374"/>
<polygon points="552.2,777.2 555.9,779.3 555.9,783.8 552.2,781.7" fill="#5a6374"/>
<polygon points="559.2,781.2 563,783.4 563,787.9 559.2,785.7" fill="#5a6374"/>
<polygon points="564.1,784 567.9,786.2 567.9,790.7 564.1,788.5" fill="#5a6374"/>
<polygon points="569,786.8 572.8,789 572.8,793.5 569,791.3" fill="#5a6374"/>
<polygon points="573.9,789.6 577.7,791.8 577.7,796.3 573.9,794.1" fill="#5a6374"/>
<polygon points="578.7,792.4 582.5,794.6 582.5,799.1 578.7,796.9" fill="#5a6374"/>
<polygon points="583.6,795.2 587.4,797.4 587.4,801.9 583.6,799.7" fill="#5a6374"/>
<polygon points="588.5,798 592.3,800.2 592.3,804.7 588.5,802.5" fill="#5a6374"/>
<polygon points="593.4,800.8 597.2,803 597.2,807.5 593.4,805.3" fill="#5a6374"/>
<polygon points="598.3,803.6 602.1,805.8 602.1,810.3 598.3,808.1" fill="#5a6374"/>
<polygon points="603.1,806.4 606.9,808.6 606.9,813.1 603.1,810.9" fill="#5a6374"/>
<polygon points="608,809.2 611.8,811.4 611.8,815.9 608,813.7" fill="#5a6374"/>
<polygon points="619.3,814 620.4,814.6 620.4,820 619.3,819.4" fill="#5a6374"/>
<polygon points="624.4,817.6 630.2,820.9 630.2,825.7 624.4,822.4" fill="#5a6374"/>
<polygon points="647.4,822.3 658.1,828.4 658.1,840.2 647.4,834.1" fill="#4d5666"/>
<polygon points="549.3,762.5 653.5,702 766.9,767 662.7,827.5" fill="#f0f1f3" stroke="#39424f" stroke-width="1.0" stroke-linejoin="round"/>
<polygon points="601.6,760.6 622,763 617.1,765.8 648.2,783.6 641.8,787.3 610.7,769.5 605.9,772.3" fill="#8f9bad"/>
<polygon points="674.8,783.5 670.5,771.8 665.7,774.6 634.6,756.8 628.2,760.5 659.3,778.3 654.4,781.2" fill="#8f9bad"/>
<polygon points="634,741.8 654.3,744.2 649.5,747 680.5,764.8 674.1,768.5 643.1,750.7 638.2,753.5" fill="#8f9bad"/>
<polygon points="707.1,764.8 702.8,753 698,755.8 666.9,738 660.5,741.8 691.6,759.6 686.8,762.4" fill="#8f9bad"/>
</g>
<g>
<polygon points="970.4,1242.2 1083.8,1307.2 1083.8,1326.9 970.4,1261.9" fill="#b8bfcc" stroke="#39424f" stroke-width="1.0" stroke-linejoin="round"/>
<polygon points="1083.8,1307.2 1188,1246.7 1188,1266.4 1083.8,1326.9" fill="#8f9bad" stroke="#39424f" stroke-width="1.0" stroke-linejoin="round"/>
<polygon points="973.3,1251.8 977,1253.9 977,1258.2 973.3,1256.1" fill="#5a6374"/>
<polygon points="980.3,1255.8 984.1,1258 984.1,1262.3 980.3,1260.1" fill="#5a6374"/>
<polygon points="985.2,1258.6 989,1260.8 989,1265.1 985.2,1262.9" fill="#5a6374"/>
<polygon points="990.1,1261.4 993.9,1263.6 993.9,1267.9 990.1,1265.7" fill="#5a6374"/>
<polygon points="995,1264.2 998.8,1266.4 998.8,1270.7 995,1268.5" fill="#5a6374"/>
<polygon points="999.8,1267 1003.6,1269.2 1003.6,1273.5 999.8,1271.3" fill="#5a6374"/>
<polygon points="1004.7,1269.8 1008.5,1272 1008.5,1276.3 1004.7,1274.1" fill="#5a6374"/>
<polygon points="1009.6,1272.6 1013.4,1274.8 1013.4,1279.1 1009.6,1276.9" fill="#5a6374"/>
<polygon points="1014.5,1275.4 1018.3,1277.6 1018.3,1281.9 1014.5,1279.7" fill="#5a6374"/>
<polygon points="1019.4,1278.2 1023.2,1280.4 1023.2,1284.7 1019.4,1282.5" fill="#5a6374"/>
<polygon points="1024.2,1281 1028,1283.2 1028,1287.5 1024.2,1285.3" fill="#5a6374"/>
<polygon points="1029.1,1283.8 1032.9,1286 1032.9,1290.3 1029.1,1288.1" fill="#5a6374"/>
<polygon points="973.3,1256.8 977,1258.9 977,1263.4 973.3,1261.3" fill="#5a6374"/>
<polygon points="980.3,1260.8 984.1,1263 984.1,1267.5 980.3,1265.3" fill="#5a6374"/>
<polygon points="985.2,1263.6 989,1265.8 989,1270.3 985.2,1268.1" fill="#5a6374"/>
<polygon points="990.1,1266.4 993.9,1268.6 993.9,1273.1 990.1,1270.9" fill="#5a6374"/>
<polygon points="995,1269.2 998.8,1271.4 998.8,1275.9 995,1273.7" fill="#5a6374"/>
<polygon points="999.8,1272 1003.6,1274.2 1003.6,1278.7 999.8,1276.5" fill="#5a6374"/>
<polygon points="1004.7,1274.8 1008.5,1277 1008.5,1281.5 1004.7,1279.3" fill="#5a6374"/>
<polygon points="1009.6,1277.6 1013.4,1279.8 1013.4,1284.3 1009.6,1282.1" fill="#5a6374"/>
<polygon points="1014.5,1280.4 1018.3,1282.6 1018.3,1287.1 1014.5,1284.9" fill="#5a6374"/>
<polygon points="1019.4,1283.2 1023.2,1285.4 1023.2,1289.9 1019.4,1287.7" fill="#5a6374"/>
<polygon points="1024.2,1286 1028,1288.2 1028,1292.7 1024.2,1290.5" fill="#5a6374"/>
<polygon points="1029.1,1288.8 1032.9,1291 1032.9,1295.5 1029.1,1293.3" fill="#5a6374"/>
<polygon points="1040.4,1293.6 1041.5,1294.2 1041.5,1299.6 1040.4,1299" fill="#5a6374"/>
<polygon points="1045.5,1297.2 1051.3,1300.5 1051.3,1305.3 1045.5,1302" fill="#5a6374"/>
<polygon points="1068.5,1301.9 1079.2,1308 1079.2,1319.8 1068.5,1313.7" fill="#4d5666"/>
<polygon points="970.4,1242.2 1074.6,1181.7 1188,1246.7 1083.8,1307.2" fill="#f0f1f3" stroke="#39424f" stroke-width="1.0" stroke-linejoin="round"/>
<polygon points="1022.7,1240.2 1043.1,1242.6 1038.2,1245.4 1069.3,1263.2 1062.9,1266.9 1031.8,1249.1 1027,1251.9" fill="#8f9bad"/>
<polygon points="1095.9,1263.1 1091.6,1251.4 1086.8,1254.2 1055.7,1236.4 1049.3,1240.1 1080.4,1257.9 1075.5,1260.8" fill="#8f9bad"/>
<polygon points="1055.1,1221.4 1075.4,1223.8 1070.6,1226.6 1101.6,1244.4 1095.2,1248.1 1064.2,1230.3 1059.3,1233.1" fill="#8f9bad"/>
<polygon points="1128.2,1244.4 1123.9,1232.6 1119.1,1235.4 1088,1217.6 1081.6,1221.4 1112.7,1239.2 1107.9,1242" fill="#8f9bad"/>
</g>
<g>
<polygon points="1429.3,1242.2 1542.7,1307.2 1542.7,1326.9 1429.3,1261.9" fill="#b8bfcc" stroke="#39424f" stroke-width="1.0" stroke-linejoin="round"/>
<polygon points="1542.7,1307.2 1646.8,1246.7 1646.8,1266.4 1542.7,1326.9" fill="#8f9bad" stroke="#39424f" stroke-width="1.0" stroke-linejoin="round"/>
<polygon points="1432.2,1251.8 1435.9,1253.9 1435.9,1258.2 1432.2,1256.1" fill="#5a6374"/>
<polygon points="1439.2,1255.8 1443,1258 1443,1262.3 1439.2,1260.1" fill="#5a6374"/>
<polygon points="1444.1,1258.6 1447.9,1260.8 1447.9,1265.1 1444.1,1262.9" fill="#5a6374"/>
<polygon points="1448.9,1261.4 1452.7,1263.6 1452.7,1267.9 1448.9,1265.7" fill="#5a6374"/>
<polygon points="1453.8,1264.2 1457.6,1266.4 1457.6,1270.7 1453.8,1268.5" fill="#5a6374"/>
<polygon points="1458.7,1267 1462.5,1269.2 1462.5,1273.5 1458.7,1271.3" fill="#5a6374"/>
<polygon points="1463.6,1269.8 1467.4,1272 1467.4,1276.3 1463.6,1274.1" fill="#5a6374"/>
<polygon points="1468.5,1272.6 1472.3,1274.8 1472.3,1279.1 1468.5,1276.9" fill="#5a6374"/>
<polygon points="1473.3,1275.4 1477.1,1277.6 1477.1,1281.9 1473.3,1279.7" fill="#5a6374"/>
<polygon points="1478.2,1278.2 1482,1280.4 1482,1284.7 1478.2,1282.5" fill="#5a6374"/>
<polygon points="1483.1,1281 1486.9,1283.2 1486.9,1287.5 1483.1,1285.3" fill="#5a6374"/>
<polygon points="1488,1283.8 1491.8,1286 1491.8,1290.3 1488,1288.1" fill="#5a6374"/>
<polygon points="1432.2,1256.8 1435.9,1258.9 1435.9,1263.4 1432.2,1261.3" fill="#5a6374"/>
<polygon points="1439.2,1260.8 1443,1263 1443,1267.5 1439.2,1265.3" fill="#5a6374"/>
<polygon points="1444.1,1263.6 1447.9,1265.8 1447.9,1270.3 1444.1,1268.1" fill="#5a6374"/>
<polygon points="1448.9,1266.4 1452.7,1268.6 1452.7,1273.1 1448.9,1270.9" fill="#5a6374"/>
<polygon points="1453.8,1269.2 1457.6,1271.4 1457.6,1275.9 1453.8,1273.7" fill="#5a6374"/>
<polygon points="1458.7,1272 1462.5,1274.2 1462.5,1278.7 1458.7,1276.5" fill="#5a6374"/>
<polygon points="1463.6,1274.8 1467.4,1277 1467.4,1281.5 1463.6,1279.3" fill="#5a6374"/>
<polygon points="1468.5,1277.6 1472.3,1279.8 1472.3,1284.3 1468.5,1282.1" fill="#5a6374"/>
<polygon points="1473.3,1280.4 1477.1,1282.6 1477.1,1287.1 1473.3,1284.9" fill="#5a6374"/>
<polygon points="1478.2,1283.2 1482,1285.4 1482,1289.9 1478.2,1287.7" fill="#5a6374"/>
<polygon points="1483.1,1286 1486.9,1288.2 1486.9,1292.7 1483.1,1290.5" fill="#5a6374"/>
<polygon points="1488,1288.8 1491.8,1291 1491.8,1295.5 1488,1293.3" fill="#5a6374"/>
<polygon points="1499.3,1293.6 1500.4,1294.2 1500.4,1299.6 1499.3,1299" fill="#5a6374"/>
<polygon points="1504.4,1297.2 1510.2,1300.5 1510.2,1305.3 1504.4,1302" fill="#5a6374"/>
<polygon points="1527.4,1301.9 1538.1,1308 1538.1,1319.8 1527.4,1313.7" fill="#4d5666"/>
<polygon points="1429.3,1242.2 1533.4,1181.7 1646.8,1246.7 1542.7,1307.2" fill="#f0f1f3" stroke="#39424f" stroke-width="1.0" stroke-linejoin="round"/>
<polygon points="1481.6,1240.2 1501.9,1242.6 1497.1,1245.4 1528.1,1263.2 1521.7,1266.9 1490.7,1249.1 1485.8,1251.9" fill="#8f9bad"/>
<polygon points="1554.7,1263.1 1550.5,1251.4 1545.6,1254.2 1514.6,1236.4 1508.2,1240.1 1539.2,1257.9 1534.4,1260.8" fill="#8f9bad"/>
<polygon points="1513.9,1221.4 1534.3,1223.8 1529.4,1226.6 1560.5,1244.4 1554.1,1248.1 1523,1230.3 1518.2,1233.1" fill="#8f9bad"/>
<polygon points="1587.1,1244.4 1582.8,1232.6 1578,1235.4 1546.9,1217.6 1540.5,1221.4 1571.6,1239.2 1566.7,1242" fill="#8f9bad"/>
</g>
<g>
<polygon points="970.4,1530.2 1083.8,1595.2 1083.8,1614.9 970.4,1549.9" fill="#b8bfcc" stroke="#39424f" stroke-width="1.0" stroke-linejoin="round"/>
<polygon points="1083.8,1595.2 1188,1534.7 1188,1554.4 1083.8,1614.9" fill="#8f9bad" stroke="#39424f" stroke-width="1.0" stroke-linejoin="round"/>
<polygon points="973.3,1539.8 977,1541.9 977,1546.2 973.3,1544.1" fill="#5a6374"/>
<polygon points="980.3,1543.8 984.1,1546 984.1,1550.3 980.3,1548.1" fill="#5a6374"/>
<polygon points="985.2,1546.6 989,1548.8 989,1553.1 985.2,1550.9" fill="#5a6374"/>
<polygon points="990.1,1549.4 993.9,1551.6 993.9,1555.9 990.1,1553.7" fill="#5a6374"/>
<polygon points="995,1552.2 998.8,1554.4 998.8,1558.7 995,1556.5" fill="#5a6374"/>
<polygon points="999.8,1555 1003.6,1557.2 1003.6,1561.5 999.8,1559.3" fill="#5a6374"/>
<polygon points="1004.7,1557.8 1008.5,1560 1008.5,1564.3 1004.7,1562.1" fill="#5a6374"/>
<polygon points="1009.6,1560.6 1013.4,1562.8 1013.4,1567.1 1009.6,1564.9" fill="#5a6374"/>
<polygon points="1014.5,1563.4 1018.3,1565.6 1018.3,1569.9 1014.5,1567.7" fill="#5a6374"/>
<polygon points="1019.4,1566.2 1023.2,1568.4 1023.2,1572.7 1019.4,1570.5" fill="#5a6374"/>
<polygon points="1024.2,1569 1028,1571.2 1028,1575.5 1024.2,1573.3" fill="#5a6374"/>
<polygon points="1029.1,1571.8 1032.9,1574 1032.9,1578.3 1029.1,1576.1" fill="#5a6374"/>
<polygon points="973.3,1544.8 977,1546.9 977,1551.4 973.3,1549.3" fill="#5a6374"/>
<polygon points="980.3,1548.8 984.1,1551 984.1,1555.5 980.3,1553.3" fill="#5a6374"/>
<polygon points="985.2,1551.6 989,1553.8 989,1558.3 985.2,1556.1" fill="#5a6374"/>
<polygon points="990.1,1554.4 993.9,1556.6 993.9,1561.1 990.1,1558.9" fill="#5a6374"/>
<polygon points="995,1557.2 998.8,1559.4 998.8,1563.9 995,1561.7" fill="#5a6374"/>
<polygon points="999.8,1560 1003.6,1562.2 1003.6,1566.7 999.8,1564.5" fill="#5a6374"/>
<polygon points="1004.7,1562.8 1008.5,1565 1008.5,1569.5 1004.7,1567.3" fill="#5a6374"/>
<polygon points="1009.6,1565.6 1013.4,1567.8 1013.4,1572.3 1009.6,1570.1" fill="#5a6374"/>
<polygon points="1014.5,1568.4 1018.3,1570.6 1018.3,1575.1 1014.5,1572.9" fill="#5a6374"/>
<polygon points="1019.4,1571.2 1023.2,1573.4 1023.2,1577.9 1019.4,1575.7" fill="#5a6374"/>
<polygon points="1024.2,1574 1028,1576.2 1028,1580.7 1024.2,1578.5" fill="#5a6374"/>
<polygon points="1029.1,1576.8 1032.9,1579 1032.9,1583.5 1029.1,1581.3" fill="#5a6374"/>
<polygon points="1040.4,1581.6 1041.5,1582.2 1041.5,1587.6 1040.4,1587" fill="#5a6374"/>
<polygon points="1045.5,1585.2 1051.3,1588.5 1051.3,1593.3 1045.5,1590" fill="#5a6374"/>
<polygon points="1068.5,1589.9 1079.2,1596 1079.2,1607.8 1068.5,1601.7" fill="#4d5666"/>
<polygon points="970.4,1530.2 1074.6,1469.7 1188,1534.7 1083.8,1595.2" fill="#f0f1f3" stroke="#39424f" stroke-width="1.0" stroke-linejoin="round"/>
<polygon points="1022.7,1528.2 1043.1,1530.6 1038.2,1533.4 1069.3,1551.2 1062.9,1554.9 1031.8,1537.1 1027,1539.9" fill="#8f9bad"/>
<polygon points="1095.9,1551.1 1091.6,1539.4 1086.8,1542.2 1055.7,1524.4 1049.3,1528.1 1080.4,1545.9 1075.5,1548.8" fill="#8f9bad"/>
<polygon points="1055.1,1509.4 1075.4,1511.8 1070.6,1514.6 1101.6,1532.4 1095.2,1536.1 1064.2,1518.3 1059.3,1521.1" fill="#8f9bad"/>
<polygon points="1128.2,1532.4 1123.9,1520.6 1119.1,1523.4 1088,1505.6 1081.6,1509.4 1112.7,1527.2 1107.9,1530" fill="#8f9bad"/>
</g>
<g>
<polygon points="1429.3,1529.8 1542.7,1594.8 1542.7,1614.5 1429.3,1549.5" fill="#b8bfcc" stroke="#39424f" stroke-width="1.0" stroke-linejoin="round"/>
<polygon points="1542.7,1594.8 1646.9,1534.2 1646.9,1554 1542.7,1614.5" fill="#8f9bad" stroke="#39424f" stroke-width="1.0" stroke-linejoin="round"/>
<polygon points="1432.2,1539.4 1435.9,1541.5 1435.9,1545.8 1432.2,1543.7" fill="#5a6374"/>
<polygon points="1439.2,1543.4 1443,1545.6 1443,1549.9 1439.2,1547.7" fill="#5a6374"/>
<polygon points="1444.1,1546.2 1447.9,1548.4 1447.9,1552.7 1444.1,1550.5" fill="#5a6374"/>
<polygon points="1449,1549 1452.8,1551.2 1452.8,1555.5 1449,1553.3" fill="#5a6374"/>
<polygon points="1453.9,1551.8 1457.7,1554 1457.7,1558.3 1453.9,1556.1" fill="#5a6374"/>
<polygon points="1458.7,1554.6 1462.5,1556.8 1462.5,1561.1 1458.7,1558.9" fill="#5a6374"/>
<polygon points="1463.6,1557.4 1467.4,1559.6 1467.4,1563.9 1463.6,1561.7" fill="#5a6374"/>
<polygon points="1468.5,1560.2 1472.3,1562.4 1472.3,1566.7 1468.5,1564.5" fill="#5a6374"/>
<polygon points="1473.4,1563 1477.2,1565.2 1477.2,1569.5 1473.4,1567.3" fill="#5a6374"/>
<polygon points="1478.3,1565.8 1482.1,1568 1482.1,1572.3 1478.3,1570.1" fill="#5a6374"/>
<polygon points="1483.1,1568.6 1486.9,1570.8 1486.9,1575.1 1483.1,1572.9" fill="#5a6374"/>
<polygon points="1488,1571.4 1491.8,1573.6 1491.8,1577.9 1488,1575.7" fill="#5a6374"/>
<polygon points="1432.2,1544.4 1435.9,1546.5 1435.9,1551 1432.2,1548.9" fill="#5a6374"/>
<polygon points="1439.2,1548.4 1443,1550.6 1443,1555.1 1439.2,1552.9" fill="#5a6374"/>
<polygon points="1444.1,1551.2 1447.9,1553.4 1447.9,1557.9 1444.1,1555.7" fill="#5a6374"/>
<polygon points="1449,1554 1452.8,1556.2 1452.8,1560.7 1449,1558.5" fill="#5a6374"/>
<polygon points="1453.9,1556.8 1457.7,1559 1457.7,1563.5 1453.9,1561.3" fill="#5a6374"/>
<polygon points="1458.7,1559.6 1462.5,1561.8 1462.5,1566.3 1458.7,1564.1" fill="#5a6374"/>
<polygon points="1463.6,1562.4 1467.4,1564.6 1467.4,1569.1 1463.6,1566.9" fill="#5a6374"/>
<polygon points="1468.5,1565.2 1472.3,1567.4 1472.3,1571.9 1468.5,1569.7" fill="#5a6374"/>
<polygon points="1473.4,1568 1477.2,1570.2 1477.2,1574.7 1473.4,1572.5" fill="#5a6374"/>
<polygon points="1478.3,1570.8 1482.1,1573 1482.1,1577.5 1478.3,1575.3" fill="#5a6374"/>
<polygon points="1483.1,1573.6 1486.9,1575.8 1486.9,1580.3 1483.1,1578.1" fill="#5a6374"/>
<polygon points="1488,1576.4 1491.8,1578.6 1491.8,1583.1 1488,1580.9" fill="#5a6374"/>
<polygon points="1499.3,1581.2 1500.4,1581.8 1500.4,1587.2 1499.3,1586.6" fill="#5a6374"/>
<polygon points="1504.4,1584.8 1510.2,1588.1 1510.2,1592.9 1504.4,1589.6" fill="#5a6374"/>
<polygon points="1527.4,1589.5 1538.1,1595.6 1538.1,1607.4 1527.4,1601.3" fill="#4d5666"/>
<polygon points="1429.3,1529.8 1533.5,1469.2 1646.9,1534.2 1542.7,1594.8" fill="#f0f1f3" stroke="#39424f" stroke-width="1.0" stroke-linejoin="round"/>
<polygon points="1481.6,1527.8 1502,1530.2 1497.1,1533 1528.2,1550.8 1521.8,1554.5 1490.7,1536.7 1485.9,1539.5" fill="#8f9bad"/>
<polygon points="1554.8,1550.7 1550.5,1539 1545.7,1541.8 1514.6,1524 1508.2,1527.7 1539.3,1545.5 1534.4,1548.4" fill="#8f9bad"/>
<polygon points="1514,1509 1534.3,1511.4 1529.5,1514.2 1560.5,1532 1554.1,1535.7 1523.1,1517.9 1518.2,1520.7" fill="#8f9bad"/>
<polygon points="1587.1,1532 1582.8,1520.2 1578,1523 1546.9,1505.2 1540.5,1509 1571.6,1526.8 1566.8,1529.6" fill="#8f9bad"/>
</g>
<g>
<polygon points="970.2,1818.8 1083.6,1883.8 1083.6,1903.5 970.2,1838.5" fill="#b8bfcc" stroke="#39424f" stroke-width="1.0" stroke-linejoin="round"/>
<polygon points="1083.6,1883.8 1187.8,1823.3 1187.8,1843 1083.6,1903.5" fill="#8f9bad" stroke="#39424f" stroke-width="1.0" stroke-linejoin="round"/>
<polygon points="973.1,1828.5 976.8,1830.6 976.8,1834.9 973.1,1832.8" fill="#5a6374"/>
<polygon points="980.1,1832.5 983.9,1834.7 983.9,1839 980.1,1836.8" fill="#5a6374"/>
<polygon points="985,1835.3 988.8,1837.5 988.8,1841.8 985,1839.6" fill="#5a6374"/>
<polygon points="989.9,1838.1 993.7,1840.3 993.7,1844.6 989.9,1842.4" fill="#5a6374"/>
<polygon points="994.8,1840.9 998.6,1843.1 998.6,1847.4 994.8,1845.2" fill="#5a6374"/>
<polygon points="999.6,1843.7 1003.4,1845.9 1003.4,1850.2 999.6,1848" fill="#5a6374"/>
<polygon points="1004.5,1846.5 1008.3,1848.7 1008.3,1853 1004.5,1850.8" fill="#5a6374"/>
<polygon points="1009.4,1849.3 1013.2,1851.5 1013.2,1855.8 1009.4,1853.6" fill="#5a6374"/>
<polygon points="1014.3,1852.1 1018.1,1854.3 1018.1,1858.6 1014.3,1856.4" fill="#5a6374"/>
<polygon points="1019.2,1854.9 1023,1857.1 1023,1861.4 1019.2,1859.2" fill="#5a6374"/>
<polygon points="1024,1857.7 1027.8,1859.9 1027.8,1864.2 1024,1862" fill="#5a6374"/>
<polygon points="1028.9,1860.5 1032.7,1862.7 1032.7,1867 1028.9,1864.8" fill="#5a6374"/>
<polygon points="973.1,1833.5 976.8,1835.6 976.8,1840.1 973.1,1838" fill="#5a6374"/>
<polygon points="980.1,1837.5 983.9,1839.7 983.9,1844.2 980.1,1842" fill="#5a6374"/>
<polygon points="985,1840.3 988.8,1842.5 988.8,1847 985,1844.8" fill="#5a6374"/>
<polygon points="989.9,1843.1 993.7,1845.3 993.7,1849.8 989.9,1847.6" fill="#5a6374"/>
<polygon points="994.8,1845.9 998.6,1848.1 998.6,1852.6 994.8,1850.4" fill="#5a6374"/>
<polygon points="999.6,1848.7 1003.4,1850.9 1003.4,1855.4 999.6,1853.2" fill="#5a6374"/>
<polygon points="1004.5,1851.5 1008.3,1853.7 1008.3,1858.2 1004.5,1856" fill="#5a6374"/>
<polygon points="1009.4,1854.3 1013.2,1856.5 1013.2,1861 1009.4,1858.8" fill="#5a6374"/>
<polygon points="1014.3,1857.1 1018.1,1859.3 1018.1,1863.8 1014.3,1861.6" fill="#5a6374"/>
<polygon points="1019.2,1859.9 1023,1862.1 1023,1866.6 1019.2,1864.4" fill="#5a6374"/>
<polygon points="1024,1862.7 1027.8,1864.9 1027.8,1869.4 1024,1867.2" fill="#5a6374"/>
<polygon points="1028.9,1865.5 1032.7,1867.7 1032.7,1872.2 1028.9,1870" fill="#5a6374"/>
<polygon points="1040.2,1870.3 1041.3,1870.9 1041.3,1876.3 1040.2,1875.7" fill="#5a6374"/>
<polygon points="1045.3,1873.9 1051.1,1877.2 1051.1,1882 1045.3,1878.7" fill="#5a6374"/>
<polygon points="1068.3,1878.6 1079,1884.7 1079,1896.5 1068.3,1890.4" fill="#4d5666"/>
<polygon points="970.2,1818.8 1074.4,1758.3 1187.8,1823.3 1083.6,1883.8" fill="#f0f1f3" stroke="#39424f" stroke-width="1.0" stroke-linejoin="round"/>
<polygon points="1022.5,1816.9 1042.9,1819.3 1038,1822.1 1069.1,1839.9 1062.7,1843.6 1031.6,1825.8 1026.8,1828.6" fill="#8f9bad"/>
<polygon points="1095.7,1839.8 1091.4,1828.1 1086.6,1830.9 1055.5,1813.1 1049.1,1816.8 1080.2,1834.6 1075.3,1837.5" fill="#8f9bad"/>
<polygon points="1054.9,1798.1 1075.2,1800.5 1070.4,1803.3 1101.4,1821.1 1095,1824.8 1064,1807 1059.1,1809.8" fill="#8f9bad"/>
<polygon points="1128,1821.1 1123.7,1809.3 1118.9,1812.1 1087.8,1794.3 1081.4,1798.1 1112.5,1815.9 1107.7,1818.7" fill="#8f9bad"/>
</g>
<g>
<polygon points="1429.2,1818.7 1542.6,1883.7 1542.6,1903.4 1429.2,1838.4" fill="#b8bfcc" stroke="#39424f" stroke-width="1.0" stroke-linejoin="round"/>
<polygon points="1542.6,1883.7 1646.8,1823.2 1646.8,1842.9 1542.6,1903.4" fill="#8f9bad" stroke="#39424f" stroke-width="1.0" stroke-linejoin="round"/>
<polygon points="1432.1,1828.3 1435.8,1830.4 1435.8,1834.7 1432.1,1832.6" fill="#5a6374"/>
<polygon points="1439.1,1832.3 1442.9,1834.5 1442.9,1838.8 1439.1,1836.6" fill="#5a6374"/>
<polygon points="1444,1835.1 1447.8,1837.3 1447.8,1841.6 1444,1839.4" fill="#5a6374"/>
<polygon points="1448.9,1837.9 1452.7,1840.1 1452.7,1844.4 1448.9,1842.2" fill="#5a6374"/>
<polygon points="1453.8,1840.7 1457.6,1842.9 1457.6,1847.2 1453.8,1845" fill="#5a6374"/>
<polygon points="1458.6,1843.5 1462.4,1845.7 1462.4,1850 1458.6,1847.8" fill="#5a6374"/>
<polygon points="1463.5,1846.3 1467.3,1848.5 1467.3,1852.8 1463.5,1850.6" fill="#5a6374"/>
<polygon points="1468.4,1849.1 1472.2,1851.3 1472.2,1855.6 1468.4,1853.4" fill="#5a6374"/>
<polygon points="1473.3,1851.9 1477.1,1854.1 1477.1,1858.4 1473.3,1856.2" fill="#5a6374"/>
<polygon points="1478.2,1854.7 1482,1856.9 1482,1861.2 1478.2,1859" fill="#5a6374"/>
<polygon points="1483,1857.5 1486.8,1859.7 1486.8,1864 1483,1861.8" fill="#5a6374"/>
<polygon points="1487.9,1860.3 1491.7,1862.5 1491.7,1866.8 1487.9,1864.6" fill="#5a6374"/>
<polygon points="1432.1,1833.3 1435.8,1835.4 1435.8,1839.9 1432.1,1837.8" fill="#5a6374"/>
<polygon points="1439.1,1837.3 1442.9,1839.5 1442.9,1844 1439.1,1841.8" fill="#5a6374"/>
<polygon points="1444,1840.1 1447.8,1842.3 1447.8,1846.8 1444,1844.6" fill="#5a6374"/>
<polygon points="1448.9,1842.9 1452.7,1845.1 1452.7,1849.6 1448.9,1847.4" fill="#5a6374"/>
<polygon points="1453.8,1845.7 1457.6,1847.9 1457.6,1852.4 1453.8,1850.2" fill="#5a6374"/>
<polygon points="1458.6,1848.5 1462.4,1850.7 1462.4,1855.2 1458.6,1853" fill="#5a6374"/>
<polygon points="1463.5,1851.3 1467.3,1853.5 1467.3,1858 1463.5,1855.8" fill="#5a6374"/>
<polygon points="1468.4,1854.1 1472.2,1856.3 1472.2,1860.8 1468.4,1858.6" fill="#5a6374"/>
<polygon points="1473.3,1856.9 1477.1,1859.1 1477.1,1863.6 1473.3,1861.4" fill="#5a6374"/>
<polygon points="1478.2,1859.7 1482,1861.9 1482,1866.4 1478.2,1864.2" fill="#5a6374"/>
<polygon points="1483,1862.5 1486.8,1864.7 1486.8,1869.2 1483,1867" fill="#5a6374"/>
<polygon points="1487.9,1865.3 1491.7,1867.5 1491.7,1872 1487.9,1869.8" fill="#5a6374"/>
<polygon points="1499.2,1870.1 1500.3,1870.7 1500.3,1876.1 1499.2,1875.5" fill="#5a6374"/>
<polygon points="1504.3,1873.7 1510.1,1877 1510.1,1881.8 1504.3,1878.5" fill="#5a6374"/>
<polygon points="1527.3,1878.4 1538,1884.5 1538,1896.3 1527.3,1890.2" fill="#4d5666"/>
<polygon points="1429.2,1818.7 1533.4,1758.2 1646.8,1823.2 1542.6,1883.7" fill="#f0f1f3" stroke="#39424f" stroke-width="1.0" stroke-linejoin="round"/>
<polygon points="1481.5,1816.7 1501.9,1819.1 1497,1821.9 1528.1,1839.7 1521.7,1843.4 1490.6,1825.6 1485.8,1828.4" fill="#8f9bad"/>
<polygon points="1554.7,1839.6 1550.4,1827.9 1545.6,1830.7 1514.5,1812.9 1508.1,1816.6 1539.2,1834.4 1534.3,1837.3" fill="#8f9bad"/>
<polygon points="1513.9,1797.9 1534.2,1800.3 1529.4,1803.1 1560.4,1820.9 1554,1824.6 1523,1806.8 1518.1,1809.6" fill="#8f9bad"/>
<polygon points="1587,1820.9 1582.7,1809.1 1577.9,1811.9 1546.8,1794.1 1540.4,1797.9 1571.5,1815.7 1566.7,1818.5" fill="#8f9bad"/>
</g>
<g transform="translate(870,1880) scale(0.08192)">
<path d="M195,335 A555,115 0 0 1 1305,335 L1305,545 A555,118 0 0 1 195,545 Z" fill="#b8bfcc"/>
<ellipse cx="750" cy="548" rx="555" ry="133" fill="#8f9bad"/>
<path d="M245,565 A505,118 0 0 1 1255,565 L1205,1035 L760,1200 L300,1005 Z" fill="#b8bfcc"/>
<path d="M480,625 C560,598 680,598 760,612 C900,640 980,760 1030,880 C1070,980 1100,1050 1175,1045 C1150,1250 950,1415 740,1415 C520,1415 330,1230 305,1000 C300,850 380,690 480,625 Z" fill="#c9cfdb"/>
<path d="M300,1015 C275,840 340,670 492,620 C410,690 350,800 330,1010 Z" fill="#8f9bad"/>
<ellipse cx="585" cy="1040" rx="238" ry="322" transform="rotate(-20 585 1040)" fill="#b8bfcc"/>
<ellipse cx="553" cy="1030" rx="222" ry="312" transform="rotate(-20 553 1030)" fill="#787f8c"/>
<ellipse cx="518" cy="1040" rx="98" ry="142" transform="rotate(-16 518 1040)" fill="#252932"/>
<circle cx="702" cy="1147" r="19" fill="#252932"/>
</g>
<g>
<path d="M1017.1,2001.8 v27.2 a45.3,25.7 0 0 0 90.6,0 v-27.2 z" fill="#285cc7"/>
<ellipse cx="1062.4" cy="2001.8" rx="45.3" ry="25.7" fill="#477de8"/>
<ellipse cx="1062.4" cy="2000" rx="41.8" ry="24" fill="#7da8fd"/>
<polygon points="1039,1984.7 1050.4,1986.6 1047.7,1988.2 1062.1,1996.3 1059.4,1997.8 1045.1,1989.6 1042.4,1991.2" fill="#f4f6fa"/>
<polygon points="1088.1,2012.6 1084.7,2006.2 1082,2007.7 1067.7,1999.5 1065.1,2001 1079.4,2009.2 1076.7,2010.7" fill="#f4f6fa"/>
<polygon points="1066.1,1996.7 1077.4,1994.8 1074.7,1993.3 1089.1,1985.1 1086.5,1983.6 1072.1,1991.8 1069.4,1990.2" fill="#f4f6fa"/>
<polygon points="1060.5,1999.9 1057.1,2006.4 1054.4,2004.8 1040.1,2013 1037.5,2011.5 1051.8,2003.3 1049.1,2001.8" fill="#f4f6fa"/>
</g>
<g transform="translate(880,2029.3) scale(0.22237)">
<path d="M417,1012 L112,1180 Q100,1187 112,1195 L590,1473 Q600,1479 612,1472 L905,1305 L918,1290 L918,1000 Z" fill="#b8bfcc"/>
<path d="M417,682 Q417,655 440,668 L905,938 Q918,946 918,962 L918,1290 Q918,1302 905,1305 L417,1012 Z" fill="#8f9bad"/>
<polygon points="438,693 896,958 896,1225 438,965" fill="#4d5666"/>
<polygon points="375,1077 770,1305 640,1385 250,1155" fill="#4d5666"/>
<polygon points="398,1062 420,1052 442,1066 418,1078" fill="#4d5666"/>
<path d="M354.2,1090 L748.3,1318.3 M333.3,1103 L726.7,1331.7 M312.5,1116 L705,1345 M291.7,1129 L683.3,1358.3 M270.8,1142 L661.7,1371.7 M403.2,1093.3 L277.9,1171.4 M431.4,1109.6 L305.7,1187.9 M459.6,1125.9 L333.6,1204.3 M487.9,1142.1 L361.4,1220.7 M516.1,1158.4 L389.3,1237.1 M544.3,1174.7 L417.1,1253.6 M572.5,1191 L445,1270 M600.7,1207.3 L472.9,1286.4 M628.9,1223.6 L500.7,1302.9 M657.1,1239.9 L528.6,1319.3 M685.4,1256.1 L556.4,1335.7 M713.6,1272.4 L584.3,1352.1 M741.8,1288.7 L612.1,1368.6 " stroke="#b8bfcc" stroke-width="2.6" fill="none"/>
</g>
<g transform="translate(880,2029.0) scale(0.22237)">
<path d="M1350,652 Q1350,622 1378,630 L1500,705 Q1532,728 1532,760 L1532,1020 Q1532,1040 1515,1048 Q1500,1058 1490,1050 L1400,1000 Z" fill="#8f9bad"/>
<path d="M1337,660 Q1337,628 1365,642 L1480,712 Q1515,735 1515,770 L1515,1030 Q1515,1062 1490,1050 L1365,975 Q1337,955 1337,925 Z" fill="#4d5666"/>
<path d="M1353,678 Q1353,655 1372,664 L1470,722 Q1497,740 1497,765 L1497,965 Q1497,990 1478,980 L1375,920 Q1353,905 1353,885 Z" fill="#252932"/>
<ellipse cx="1425" cy="978" rx="11" ry="14" fill="#8f9bad"/>
</g>
<g transform="translate(1465,1943.7) scale(0.08192,0.08335)">
<path d="M1218.7,1203 Q1240,1190 1246.8,1214.1 L1318.2,1465.9 Q1325,1490 1303.3,1502.5 L1051.7,1647.5 Q1030,1660 1032.1,1635.1 L1057.9,1324.9 Q1060,1300 1081.3,1287 Z" fill="#4d5666"/>
<path d="M681.2,258.8 Q712,185 781.3,225 L1392.7,578 Q1462,618 1431.3,691.9 L1005.7,1716.1 Q975,1790 907.1,1747.8 L302.9,1372.2 Q235,1330 265.8,1256.2 Z" fill="#8f9bad"/>
<path d="M628.3,273.4 Q660,200 729.3,239.9 L1340.7,592.1 Q1410,632 1378.9,705.7 L953.1,1716.3 Q922,1790 853.8,1748.2 L240.2,1371.8 Q172,1330 203.7,1256.6 Z" fill="#4d5666"/>
<path d="M700,255 Q640,250 610,310 C470,560 340,900 240,1230 Q230,1280 270,1300 L400,1368 Q440,1380 465,1340 L540,1150 L500,1060 C510,900 600,700 720,640 Q800,630 830,520 L880,370 Q880,335 850,330 Z" fill="#8f9bad"/>
<path d="M850,345 C700,440 560,640 480,900 C430,1080 410,1220 400,1340 Q405,1372 440,1360 Q462,1350 470,1320 L535,1148 L498,1062 C505,900 600,700 720,640 Q800,630 830,520 L878,372 Q880,340 850,345 Z" fill="#b8bfcc"/>
<path d="M939.1,436.7 Q955,400 989.6,420.1 L1323.4,614.9 Q1358,635 1343,672.1 L1165,1112.9 Q1150,1150 1116,1128.9 L774,916.1 Q740,895 755.9,858.3 Z" fill="#b8bfcc"/>
<polygon points="965,520 1260,690 1145,985 848,812" fill="#4d5666"/>
<line x1="795" y1="896" x2="825" y2="914" stroke="#4d5666" stroke-width="26" stroke-linecap="round"/>
<line x1="868" y1="938" x2="898" y2="956" stroke="#4d5666" stroke-width="26" stroke-linecap="round"/>
<line x1="942" y1="981" x2="972" y2="999" stroke="#4d5666" stroke-width="26" stroke-linecap="round"/>
<line x1="1015" y1="1023" x2="1045" y2="1041" stroke="#4d5666" stroke-width="26" stroke-linecap="round"/>
<line x1="1088" y1="1066" x2="1118" y2="1084" stroke="#4d5666" stroke-width="26" stroke-linecap="round"/>
<path d="M767.4,1060.1 Q773,1043 788.6,1052 L839.4,1081 Q855,1090 849.6,1107.2 L836.4,1149.8 Q831,1167 815.3,1158.1 L763.7,1128.9 Q748,1120 753.6,1102.9 Z" fill="#b8bfcc"/>
<path d="M879.4,1124.1 Q885,1107 900.6,1116 L951.4,1145 Q967,1154 961.6,1171.2 L948.4,1213.8 Q943,1231 927.3,1222.1 L875.7,1192.9 Q860,1184 865.6,1166.9 Z" fill="#b8bfcc"/>
<path d="M991.4,1188.1 Q997,1171 1012.6,1180 L1063.4,1209 Q1079,1218 1073.6,1235.2 L1060.4,1277.8 Q1055,1295 1039.3,1286.1 L987.7,1256.9 Q972,1248 977.6,1230.9 Z" fill="#b8bfcc"/>
<path d="M714.4,1185.1 Q720,1168 735.6,1177 L786.4,1206 Q802,1215 796.6,1232.2 L783.4,1274.8 Q778,1292 762.3,1283.1 L710.7,1253.9 Q695,1245 700.6,1227.9 Z" fill="#b8bfcc"/>
<path d="M826.4,1249.1 Q832,1232 847.6,1241 L898.4,1270 Q914,1279 908.6,1296.2 L895.4,1338.8 Q890,1356 874.3,1347.1 L822.7,1317.9 Q807,1309 812.6,1291.9 Z" fill="#b8bfcc"/>
<path d="M938.4,1313.1 Q944,1296 959.6,1305 L1010.4,1334 Q1026,1343 1020.6,1360.2 L1007.4,1402.8 Q1002,1420 986.3,1411.1 L934.7,1381.9 Q919,1373 924.6,1355.9 Z" fill="#b8bfcc"/>
<path d="M661.4,1310.1 Q667,1293 682.6,1302 L733.4,1331 Q749,1340 743.6,1357.2 L730.4,1399.8 Q725,1417 709.3,1408.1 L657.7,1378.9 Q642,1370 647.6,1352.9 Z" fill="#b8bfcc"/>
<path d="M773.4,1374.1 Q779,1357 794.6,1366 L845.4,1395 Q861,1404 855.6,1421.2 L842.4,1463.8 Q837,1481 821.3,1472.1 L769.7,1442.9 Q754,1434 759.6,1416.9 Z" fill="#b8bfcc"/>
<path d="M885.4,1438.1 Q891,1421 906.6,1430 L957.4,1459 Q973,1468 967.6,1485.2 L954.4,1527.8 Q949,1545 933.3,1536.1 L881.7,1506.9 Q866,1498 871.6,1480.9 Z" fill="#b8bfcc"/>
<path d="M690.3,1004.8 Q696,992 708.2,998.9 L747.8,1021.1 Q760,1028 754.5,1040.9 L748.5,1055.1 Q743,1068 730.8,1061.2 L690.2,1038.8 Q678,1032 683.7,1019.2 Z" fill="#b8bfcc"/>
<path d="M652.3,1104.8 Q658,1092 670.2,1098.9 L709.8,1121.1 Q722,1128 716.5,1140.9 L710.5,1155.1 Q705,1168 692.8,1161.2 L652.2,1138.8 Q640,1132 645.7,1119.2 Z" fill="#b8bfcc"/>
<path d="M612.3,1202.8 Q618,1190 630.2,1196.9 L669.8,1219.1 Q682,1226 676.5,1238.9 L670.5,1253.1 Q665,1266 652.8,1259.2 L612.2,1236.8 Q600,1230 605.7,1217.2 Z" fill="#b8bfcc"/>
<path d="M572.3,1302.8 Q578,1290 590.2,1296.9 L629.8,1319.1 Q642,1326 636.5,1338.9 L630.5,1353.1 Q625,1366 612.8,1359.2 L572.2,1336.8 Q560,1330 565.7,1317.2 Z" fill="#b8bfcc"/>
<line x1="520" y1="1425" x2="935" y2="1670" stroke="#b8bfcc" stroke-width="14"/>
</g>
<g transform="translate(1625,1880) scale(0.13458)">
<polygon points="1060,95 1555,388 1440,850 1410,830 1035,100" fill="#4d5666"/>
<path d="M1028,112 Q1033,95 1050,105 L1520,385 L1410,830 L920,545 Z" fill="#8f9bad"/>
<polygon points="1035,305 1365,495 1290,795 960,605" fill="#ffffff"/>
<polygon points="1365,495 1290,795 1270,783 1343,490" fill="#eef0f3"/>
<path d="M307.4,800.5 Q243,762 305.8,721.1 L682.2,475.9 Q745,435 809.5,473.2 L1532.5,901.8 Q1597,940 1534.8,981.9 L1162.2,1233.1 Q1100,1275 1035.6,1236.5 Z" fill="#b8bfcc" transform="translate(0,312)"/>
<polygon points="275,762 1565,940 1565,1252 1100,1560 275,1074" fill="#b8bfcc"/>
<path d="M307.4,800.5 Q243,762 305.8,721.1 L682.2,475.9 Q745,435 809.5,473.2 L1532.5,901.8 Q1597,940 1534.8,981.9 L1162.2,1233.1 Q1100,1275 1035.6,1236.5 Z" fill="#8f9bad"/>
<polygon points="622,885 915,1055 855,1105 560,930" fill="#ffffff"/>
<polygon points="390,1035 960,1370 960,1500 390,1165" fill="#8f9bad"/>
<path d="M108,1405 Q95,1395 95,1385 L95,1410 Q95,1420 110,1430 L530,1680 Q560,1698 590,1678 L900,1460 L900,1420 Z" fill="#8f9bad"/>
<path d="M430,1155 Q445,1145 462,1155 L900,1415 L585,1650 Q560,1668 532,1652 L108,1405 Q92,1392 108,1380 Z" fill="#b8bfcc"/>
<path d="M490,1165 L840,1375 L575,1560 Q555,1575 535,1562 L225,1372 Q210,1360 225,1350 Z" fill="#ffffff"/>
</g>
<g transform="translate(1390,2100) scale(0.14628)">
<polygon points="125,475 548,232 715,325 290,572" fill="#b8bfcc"/>
<polygon points="125,475 290,572 290,1120 125,1025" fill="#eff0f3"/>
<polygon points="290,572 715,325 715,875 290,1120" fill="#8f9bad"/>
<path d="M180,575 L285,637 M185,640 L285,700 M180,703 L285,765" stroke="#a3acba" stroke-width="4" fill="none"/>
<polyline points="152,1035 152,742 272,810 272,1105" fill="none" stroke="#39424f" stroke-width="3.5"/>
<polygon points="152,742 272,810 272,822 152,754" fill="#39424f"/>
<path d="M152,832 L272,900 M152,855 L272,923 M152,878 L272,946 M152,901 L272,969 M152,924 L272,992 M152,947 L272,1015 M152,970 L272,1038 M152,993 L272,1061 M152,1016 L272,1084 " stroke="#39424f" stroke-width="4" fill="none"/>
<path d="M1090,1090 L1230,1170 L1230,1215 L1130,1282 L1000,1202 L1090,1140 Z" fill="#b8bfcc"/>
<path d="M1000,1202 L1130,1272 L1230,1205 L1230,1218 L1130,1285 L1000,1210 Z" fill="#8f9bad"/>
<path d="M1500,1335 L1520,1325 Q1532,1318 1532,1300 L1532,810 Q1532,792 1518,785 L800,362 Q785,352 775,362 Z" fill="#8f9bad"/>
<path d="M758,385 Q758,355 785,368 L1500,790 Q1522,803 1522,825 L1522,1310 Q1522,1345 1495,1332 L775,915 Q758,905 758,885 Z" fill="#b8bfcc"/>
<path d="M773,410 Q773,385 795,398 L1490,805 Q1507,815 1507,835 L1507,1215 Q1507,1245 1482,1232 L790,832 Q773,822 773,800 Z" fill="#4d5666"/>
<polygon points="560,1280 720,1165 1205,1455 1205,1480 1045,1590 560,1300" fill="#b8bfcc"/>
<polygon points="560,1280 720,1165 1205,1455 1045,1565" fill="#eff0f3"/>
<ellipse cx="1212" cy="1590" rx="85" ry="42" transform="rotate(-27 1212 1590)" fill="#b8bfcc"/>
<ellipse cx="1210" cy="1578" rx="82" ry="40" transform="rotate(-27 1210 1578)" fill="#eff0f3"/>
<ellipse cx="1232" cy="1545" rx="12" ry="6" transform="rotate(-27 1232 1545)" fill="#b8bfcc"/>
</g>
<text x="424" y="26" font-size="28.4" fill="#2459c5" font-weight="700" textLength="103.5" lengthAdjust="spacingAndGlyphs" stroke="#2459c5" stroke-width="0.4">RADIUS</text>
<text x="308.8" y="113.6" font-size="28.4" fill="#2459c5" font-weight="700" textLength="60.5" lengthAdjust="spacingAndGlyphs" stroke="#2459c5" stroke-width="0.4">WLC</text>
<text x="126.7" y="204.8" font-size="28.4" fill="#2459c5" font-weight="700" textLength="87.9" lengthAdjust="spacingAndGlyphs" stroke="#2459c5" stroke-width="0.4">MS AD</text>
<text x="0.2" y="291.3" font-size="28.4" fill="#2459c5" font-weight="700" textLength="61" lengthAdjust="spacingAndGlyphs" stroke="#2459c5" stroke-width="0.4">SMG</text>
<text x="839.1" y="510" font-size="28.4" fill="#2459c5" font-weight="700" textLength="57" lengthAdjust="spacingAndGlyphs" stroke="#2459c5" stroke-width="0.4">MES</text>
<text x="544.6" y="846.4" font-size="28.4" fill="#2459c5" font-weight="700" textLength="57" lengthAdjust="spacingAndGlyphs" stroke="#2459c5" stroke-width="0.4">MES</text>
<text x="955.9" y="1318.7" font-size="28.4" fill="#2459c5" font-weight="700" textLength="57" lengthAdjust="spacingAndGlyphs" stroke="#2459c5" stroke-width="0.4">MES</text>
<text x="1607.8" y="1320.2" font-size="28.4" fill="#2459c5" font-weight="700" textLength="57" lengthAdjust="spacingAndGlyphs" stroke="#2459c5" stroke-width="0.4">MES</text>
<text x="939.5" y="1609.3" font-size="28.4" fill="#2459c5" font-weight="700" textLength="57" lengthAdjust="spacingAndGlyphs" stroke="#2459c5" stroke-width="0.4">MES</text>
<text x="1608.5" y="1608.5" font-size="28.4" fill="#2459c5" font-weight="700" textLength="57" lengthAdjust="spacingAndGlyphs" stroke="#2459c5" stroke-width="0.4">MES</text>
<text x="944.8" y="1781" font-size="28.4" fill="#2459c5" font-weight="700" textLength="57" lengthAdjust="spacingAndGlyphs" stroke="#2459c5" stroke-width="0.4">MES</text>
<text x="1608.3" y="1781.5" font-size="28.4" fill="#2459c5" font-weight="700" textLength="57" lengthAdjust="spacingAndGlyphs" stroke="#2459c5" stroke-width="0.4">MES</text>
<text x="985.6" y="724.6" font-size="28.4" fill="#2459c5" font-weight="700" textLength="134.1" lengthAdjust="spacingAndGlyphs" stroke="#2459c5" stroke-width="0.4">ESR - МСЭ</text>
<text x="1471" y="724.6" font-size="28.4" fill="#2459c5" font-weight="700" textLength="134.5" lengthAdjust="spacingAndGlyphs" stroke="#2459c5" stroke-width="0.4">ESR - МСЭ</text>
<text x="1123.9" y="2019.6" font-size="28.4" fill="#2459c5" font-weight="700" textLength="60" lengthAdjust="spacingAndGlyphs" stroke="#2459c5" stroke-width="0.4">WEP</text>
<text x="1127.5" y="502.8" font-size="20.5" fill="#1f2329" textLength="113.9" lengthAdjust="spacingAndGlyphs" stroke="#1f2329" stroke-width="0.35">Оператор 1</text>
<text x="1368.8" y="502.8" font-size="20.5" fill="#1f2329" textLength="115.5" lengthAdjust="spacingAndGlyphs" stroke="#1f2329" stroke-width="0.35">Оператор 2</text>
<text x="1675.2" y="1261.7" font-size="20.5" fill="#1f2329" textLength="139" lengthAdjust="spacingAndGlyphs" stroke="#1f2329" stroke-width="0.35">Уровень ядра</text>
<text x="1675.1" y="1552.7" font-size="20.5" fill="#1f2329" textLength="196.2" lengthAdjust="spacingAndGlyphs" stroke="#1f2329" stroke-width="0.35">Уровень агрегации</text>
<text x="1675.4" y="1839.6" font-size="20.5" fill="#1f2329" textLength="170.5" lengthAdjust="spacingAndGlyphs" stroke="#1f2329" stroke-width="0.35">Уровень доступа</text>
</svg>
</body></html>
